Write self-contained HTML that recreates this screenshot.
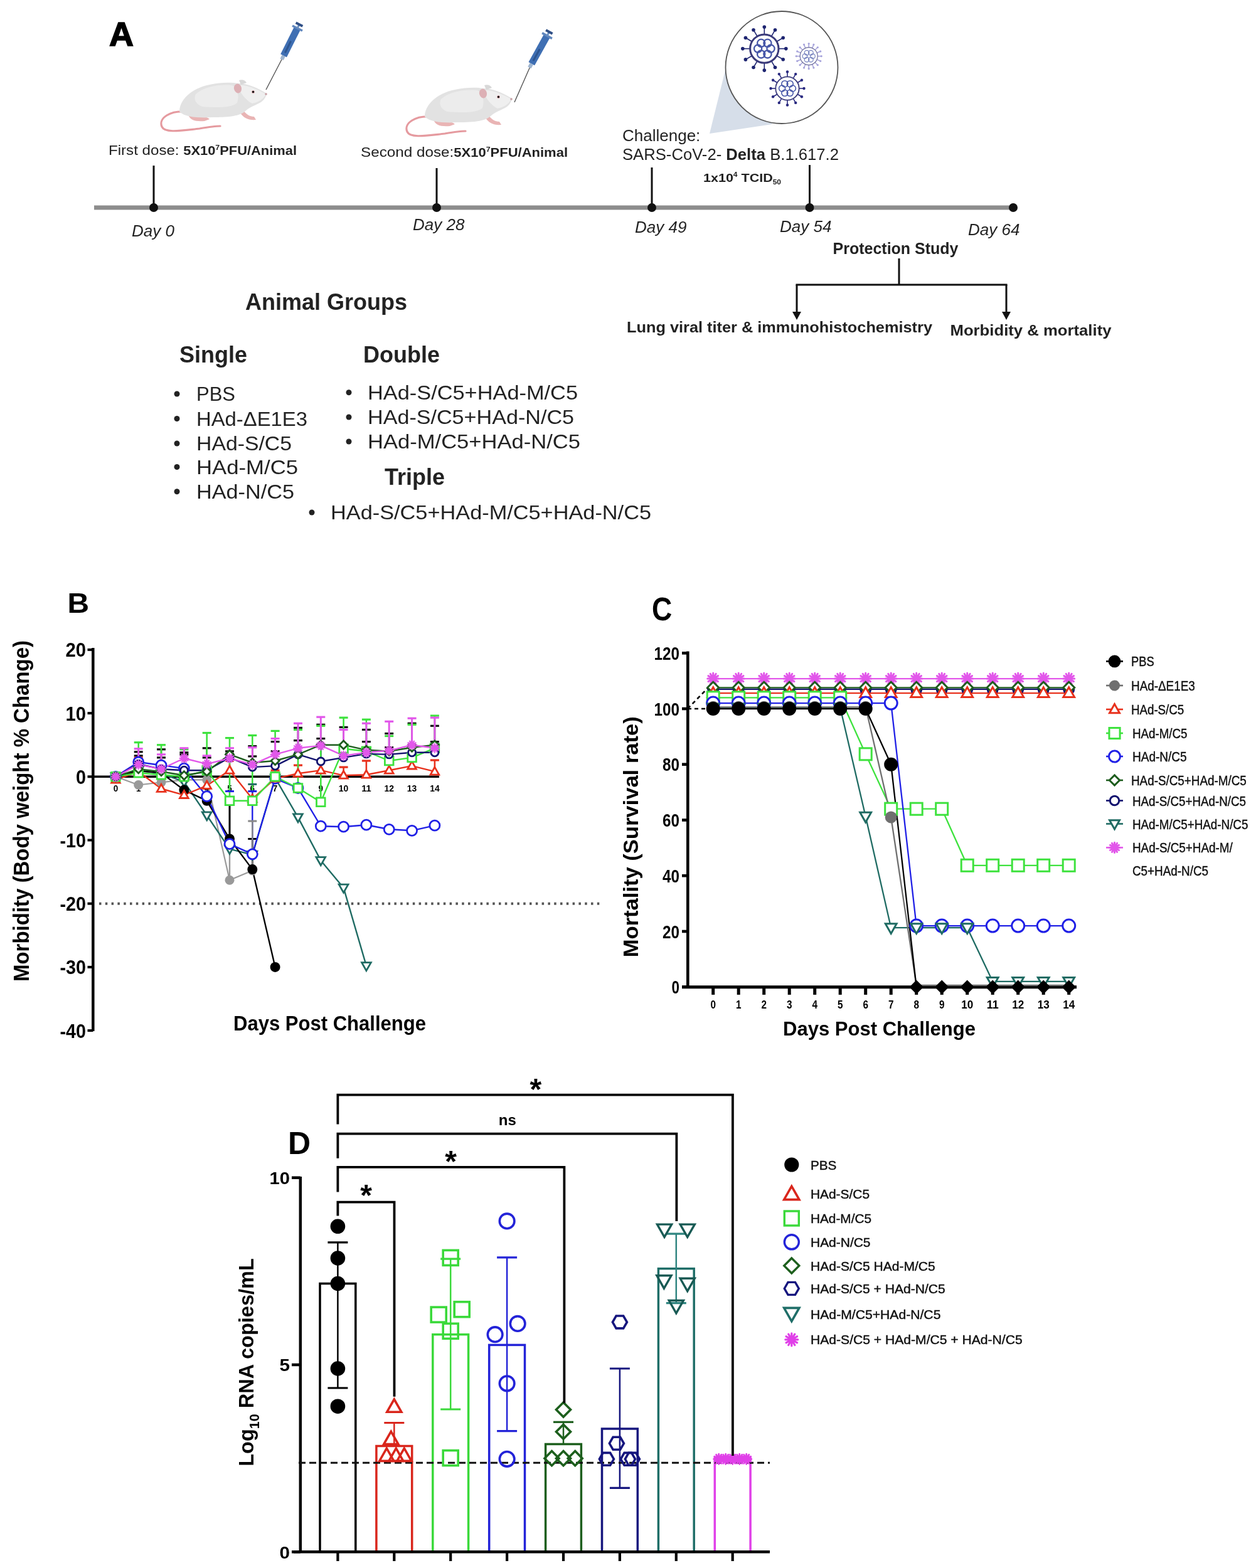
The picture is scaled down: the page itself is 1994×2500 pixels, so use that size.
<!DOCTYPE html>
<html><head><meta charset="utf-8"><title>Figure</title>
<style>html,body{margin:0;padding:0;background:#fff;overflow:hidden;} svg{display:block;} text{font-family:"Liberation Sans", Arial, sans-serif;}</style>
</head><body>
<svg width="1994" height="2500" viewBox="0 0 1994 2500">
<rect width="1994" height="2500" fill="#fff"/>
<text x="174.0" y="73.0" font-size="54" font-weight="bold" font-style="normal" text-anchor="start" fill="#000" stroke="#000" stroke-width="1.6">A</text>
<g transform="translate(0,0) scale(1.0)">
<path d="M296,178 C272,176 252,188 258,202 C263,213 290,208 318,205 C330,203 342,201 351,201" fill="none" stroke="#e59a9f" stroke-width="3.2" stroke-linecap="round"/>
<path d="M300,182 C302,192 312,194 326,193 L334,190 C330,186 318,184 306,180 Z" fill="#e9b4b4"/>
<path d="M383,180 C388,188 396,192 408,191 L405,186 C398,186 392,182 388,176 Z" fill="#e9b4b4"/>
<path d="M286,178 C286,160 304,141 334,135 C352,131 368,131 380,133 C395,133 410,140 425,149 C424,156 419,162 412,165 C404,169 396,172 390,178 C380,186 360,187 340,187 C320,188 296,188 286,178 Z" fill="#e2e2e2"/>
<path d="M312,150 C325,138 350,134 370,136 C378,140 382,152 378,164 C370,172 345,172 322,170 C312,166 308,158 312,150 Z" fill="#ececec"/>
<path d="M378,136 C392,134 410,142 424,150 C420,158 412,163 402,165 C392,160 384,150 378,136 Z" fill="#efefef"/>
<ellipse cx="379" cy="141" rx="6" ry="7.5" fill="#ddb0b5" transform="rotate(-15 379 141)"/>
<path d="M381,128 C386,126 391,128 393,132 L384,135 Z" fill="#d8d8d8"/>
<circle cx="403.5" cy="146.5" r="2.6" fill="#e7b6bb"/><circle cx="403.5" cy="146.5" r="1.7" fill="#111"/>
<circle cx="424" cy="150" r="1.8" fill="#c9a0a5"/>
</g>
<g transform="translate(391,8) scale(1.0)">
<path d="M296,178 C272,176 252,188 258,202 C263,213 290,208 318,205 C330,203 342,201 351,201" fill="none" stroke="#e59a9f" stroke-width="3.2" stroke-linecap="round"/>
<path d="M300,182 C302,192 312,194 326,193 L334,190 C330,186 318,184 306,180 Z" fill="#e9b4b4"/>
<path d="M383,180 C388,188 396,192 408,191 L405,186 C398,186 392,182 388,176 Z" fill="#e9b4b4"/>
<path d="M286,178 C286,160 304,141 334,135 C352,131 368,131 380,133 C395,133 410,140 425,149 C424,156 419,162 412,165 C404,169 396,172 390,178 C380,186 360,187 340,187 C320,188 296,188 286,178 Z" fill="#e2e2e2"/>
<path d="M312,150 C325,138 350,134 370,136 C378,140 382,152 378,164 C370,172 345,172 322,170 C312,166 308,158 312,150 Z" fill="#ececec"/>
<path d="M378,136 C392,134 410,142 424,150 C420,158 412,163 402,165 C392,160 384,150 378,136 Z" fill="#efefef"/>
<ellipse cx="379" cy="141" rx="6" ry="7.5" fill="#ddb0b5" transform="rotate(-15 379 141)"/>
<path d="M381,128 C386,126 391,128 393,132 L384,135 Z" fill="#d8d8d8"/>
<circle cx="403.5" cy="146.5" r="2.6" fill="#e7b6bb"/><circle cx="403.5" cy="146.5" r="1.7" fill="#111"/>
<circle cx="424" cy="150" r="1.8" fill="#c9a0a5"/>
</g>
<line x1="424.0" y1="143.0" x2="451.0" y2="91.0" stroke="#555" stroke-width="1.4" />
<line x1="449.2" y1="94.7" x2="452.1" y2="88.7" stroke="#9fb5cf" stroke-width="6" />
<line x1="452.1" y1="88.7" x2="474.0" y2="45.0" stroke="#3f6fb3" stroke-width="11" />
<line x1="454.4" y1="84.1" x2="463.6" y2="65.7" stroke="#2d5590" stroke-width="3" />
<line x1="466.0" y1="41.0" x2="482.0" y2="49.0" stroke="#5f86bd" stroke-width="3.5" />
<line x1="474.0" y1="45.0" x2="477.0" y2="39.0" stroke="#6b8fc0" stroke-width="3" />
<line x1="471.6" y1="36.3" x2="482.4" y2="41.7" stroke="#2f4f86" stroke-width="4" />
<line x1="820.0" y1="163.0" x2="846.0" y2="104.0" stroke="#555" stroke-width="1.4" />
<line x1="843.9" y1="107.8" x2="847.3" y2="101.7" stroke="#9fb5cf" stroke-width="6" />
<line x1="847.3" y1="101.7" x2="872.0" y2="57.0" stroke="#3f6fb3" stroke-width="11" />
<line x1="849.9" y1="97.0" x2="860.3" y2="78.2" stroke="#2d5590" stroke-width="3" />
<line x1="864.1" y1="52.6" x2="879.9" y2="61.4" stroke="#5f86bd" stroke-width="3.5" />
<line x1="872.0" y1="57.0" x2="875.4" y2="50.9" stroke="#6b8fc0" stroke-width="3" />
<line x1="870.1" y1="48.0" x2="880.6" y2="53.8" stroke="#2f4f86" stroke-width="4" />
<text x="173" y="247" font-size="21.5" fill="#222" textLength="300" lengthAdjust="spacingAndGlyphs">First dose: <tspan font-weight="bold" font-size="19.5">5X10<tspan dy="-8" font-size="11">7</tspan><tspan dy="8">PFU/Animal</tspan></tspan></text>
<text x="575" y="250" font-size="21.5" fill="#222" textLength="330" lengthAdjust="spacingAndGlyphs">Second dose:<tspan font-weight="bold" font-size="19.5">5X10<tspan dy="-8" font-size="11">7</tspan><tspan dy="8">PFU/Animal</tspan></tspan></text>
<polygon points="1131,213 1156,112 1231,198" fill="#d6dee9"/>
<circle cx="1246" cy="107.5" r="89.5" fill="#fff" stroke="#555" stroke-width="1.8"/>
<g opacity="1.0"><line x1="1218.3" y1="54.9" x2="1218.3" y2="43.1" stroke="#1d2470" stroke-width="1.6"/><circle cx="1218.3" cy="43.1" r="2.8" fill="#1d2470"/><line x1="1229.6" y1="57.9" x2="1235.5" y2="47.7" stroke="#1d2470" stroke-width="1.6"/><circle cx="1235.5" cy="47.7" r="2.8" fill="#1d2470"/><line x1="1238.0" y1="66.2" x2="1248.2" y2="60.3" stroke="#1d2470" stroke-width="1.6"/><circle cx="1248.2" cy="60.3" r="2.8" fill="#1d2470"/><line x1="1241.0" y1="77.6" x2="1252.8" y2="77.6" stroke="#1d2470" stroke-width="1.6"/><circle cx="1252.8" cy="77.6" r="2.8" fill="#1d2470"/><line x1="1238.0" y1="88.9" x2="1248.2" y2="94.8" stroke="#1d2470" stroke-width="1.6"/><circle cx="1248.2" cy="94.8" r="2.8" fill="#1d2470"/><line x1="1229.6" y1="97.3" x2="1235.5" y2="107.5" stroke="#1d2470" stroke-width="1.6"/><circle cx="1235.5" cy="107.5" r="2.8" fill="#1d2470"/><line x1="1218.3" y1="100.3" x2="1218.3" y2="112.1" stroke="#1d2470" stroke-width="1.6"/><circle cx="1218.3" cy="112.1" r="2.8" fill="#1d2470"/><line x1="1207.0" y1="97.3" x2="1201.0" y2="107.5" stroke="#1d2470" stroke-width="1.6"/><circle cx="1201.0" cy="107.5" r="2.8" fill="#1d2470"/><line x1="1198.6" y1="89.0" x2="1188.4" y2="94.9" stroke="#1d2470" stroke-width="1.6"/><circle cx="1188.4" cy="94.9" r="2.8" fill="#1d2470"/><line x1="1195.6" y1="77.6" x2="1183.8" y2="77.6" stroke="#1d2470" stroke-width="1.6"/><circle cx="1183.8" cy="77.6" r="2.8" fill="#1d2470"/><line x1="1198.6" y1="66.2" x2="1188.4" y2="60.3" stroke="#1d2470" stroke-width="1.6"/><circle cx="1188.4" cy="60.3" r="2.8" fill="#1d2470"/><line x1="1207.0" y1="57.9" x2="1201.0" y2="47.7" stroke="#1d2470" stroke-width="1.6"/><circle cx="1201.0" cy="47.7" r="2.8" fill="#1d2470"/><circle cx="1218.3" cy="77.6" r="22.7" fill="#fff" stroke="#3a3a7a" stroke-width="3.0"/><circle cx="1228.5" cy="77.6" r="6.1" fill="none" stroke="#4656a8" stroke-width="2.3"/><circle cx="1223.4" cy="86.4" r="6.1" fill="none" stroke="#4656a8" stroke-width="2.3"/><circle cx="1213.2" cy="86.4" r="6.1" fill="none" stroke="#4656a8" stroke-width="2.3"/><circle cx="1208.1" cy="77.6" r="6.1" fill="none" stroke="#4656a8" stroke-width="2.3"/><circle cx="1213.2" cy="68.8" r="6.1" fill="none" stroke="#4656a8" stroke-width="2.3"/><circle cx="1223.4" cy="68.8" r="6.1" fill="none" stroke="#4656a8" stroke-width="2.3"/></g>
<g opacity="0.75"><line x1="1289.2" y1="75.6" x2="1289.2" y2="69.6" stroke="#8a86d0" stroke-width="1.6"/><circle cx="1289.2" cy="69.6" r="1.6" fill="#8a86d0"/><line x1="1294.6" y1="76.7" x2="1296.9" y2="71.1" stroke="#8a86d0" stroke-width="1.6"/><circle cx="1296.9" cy="71.1" r="1.6" fill="#8a86d0"/><line x1="1299.1" y1="79.7" x2="1303.3" y2="75.5" stroke="#8a86d0" stroke-width="1.6"/><circle cx="1303.3" cy="75.5" r="1.6" fill="#8a86d0"/><line x1="1302.1" y1="84.2" x2="1307.7" y2="81.9" stroke="#8a86d0" stroke-width="1.6"/><circle cx="1307.7" cy="81.9" r="1.6" fill="#8a86d0"/><line x1="1303.2" y1="89.6" x2="1309.2" y2="89.6" stroke="#8a86d0" stroke-width="1.6"/><circle cx="1309.2" cy="89.6" r="1.6" fill="#8a86d0"/><line x1="1302.1" y1="95.0" x2="1307.7" y2="97.3" stroke="#8a86d0" stroke-width="1.6"/><circle cx="1307.7" cy="97.3" r="1.6" fill="#8a86d0"/><line x1="1299.1" y1="99.5" x2="1303.3" y2="103.7" stroke="#8a86d0" stroke-width="1.6"/><circle cx="1303.3" cy="103.7" r="1.6" fill="#8a86d0"/><line x1="1294.6" y1="102.5" x2="1296.9" y2="108.1" stroke="#8a86d0" stroke-width="1.6"/><circle cx="1296.9" cy="108.1" r="1.6" fill="#8a86d0"/><line x1="1289.2" y1="103.6" x2="1289.2" y2="109.6" stroke="#8a86d0" stroke-width="1.6"/><circle cx="1289.2" cy="109.6" r="1.6" fill="#8a86d0"/><line x1="1283.8" y1="102.5" x2="1281.5" y2="108.1" stroke="#8a86d0" stroke-width="1.6"/><circle cx="1281.5" cy="108.1" r="1.6" fill="#8a86d0"/><line x1="1279.3" y1="99.5" x2="1275.1" y2="103.7" stroke="#8a86d0" stroke-width="1.6"/><circle cx="1275.1" cy="103.7" r="1.6" fill="#8a86d0"/><line x1="1276.3" y1="95.0" x2="1270.7" y2="97.3" stroke="#8a86d0" stroke-width="1.6"/><circle cx="1270.7" cy="97.3" r="1.6" fill="#8a86d0"/><line x1="1275.2" y1="89.6" x2="1269.2" y2="89.6" stroke="#8a86d0" stroke-width="1.6"/><circle cx="1269.2" cy="89.6" r="1.6" fill="#8a86d0"/><line x1="1276.3" y1="84.2" x2="1270.7" y2="81.9" stroke="#8a86d0" stroke-width="1.6"/><circle cx="1270.7" cy="81.9" r="1.6" fill="#8a86d0"/><line x1="1279.3" y1="79.7" x2="1275.1" y2="75.5" stroke="#8a86d0" stroke-width="1.6"/><circle cx="1275.1" cy="75.5" r="1.6" fill="#8a86d0"/><line x1="1283.8" y1="76.7" x2="1281.5" y2="71.1" stroke="#8a86d0" stroke-width="1.6"/><circle cx="1281.5" cy="71.1" r="1.6" fill="#8a86d0"/><circle cx="1289.2" cy="89.6" r="14" fill="#fff" stroke="#3a3a7a" stroke-width="1.2"/><circle cx="1295.5" cy="89.6" r="3.8" fill="none" stroke="#4656a8" stroke-width="1.2"/><circle cx="1292.4" cy="95.1" r="3.8" fill="none" stroke="#4656a8" stroke-width="1.2"/><circle cx="1286.0" cy="95.1" r="3.8" fill="none" stroke="#4656a8" stroke-width="1.2"/><circle cx="1282.9" cy="89.6" r="3.8" fill="none" stroke="#4656a8" stroke-width="1.2"/><circle cx="1286.0" cy="84.1" r="3.8" fill="none" stroke="#4656a8" stroke-width="1.2"/><circle cx="1292.4" cy="84.1" r="3.8" fill="none" stroke="#4656a8" stroke-width="1.2"/></g>
<g opacity="1.0"><line x1="1255.0" y1="122.3" x2="1255.0" y2="114.5" stroke="#2a2a80" stroke-width="1.6"/><circle cx="1255.0" cy="114.5" r="2.2" fill="#2a2a80"/><line x1="1264.3" y1="124.8" x2="1268.2" y2="118.1" stroke="#2a2a80" stroke-width="1.6"/><circle cx="1268.2" cy="118.1" r="2.2" fill="#2a2a80"/><line x1="1271.2" y1="131.7" x2="1277.9" y2="127.8" stroke="#2a2a80" stroke-width="1.6"/><circle cx="1277.9" cy="127.8" r="2.2" fill="#2a2a80"/><line x1="1273.7" y1="141.0" x2="1281.5" y2="141.0" stroke="#2a2a80" stroke-width="1.6"/><circle cx="1281.5" cy="141.0" r="2.2" fill="#2a2a80"/><line x1="1271.2" y1="150.3" x2="1277.9" y2="154.2" stroke="#2a2a80" stroke-width="1.6"/><circle cx="1277.9" cy="154.2" r="2.2" fill="#2a2a80"/><line x1="1264.3" y1="157.2" x2="1268.2" y2="163.9" stroke="#2a2a80" stroke-width="1.6"/><circle cx="1268.2" cy="163.9" r="2.2" fill="#2a2a80"/><line x1="1255.0" y1="159.7" x2="1255.0" y2="167.5" stroke="#2a2a80" stroke-width="1.6"/><circle cx="1255.0" cy="167.5" r="2.2" fill="#2a2a80"/><line x1="1245.7" y1="157.2" x2="1241.8" y2="163.9" stroke="#2a2a80" stroke-width="1.6"/><circle cx="1241.8" cy="163.9" r="2.2" fill="#2a2a80"/><line x1="1238.8" y1="150.3" x2="1232.1" y2="154.2" stroke="#2a2a80" stroke-width="1.6"/><circle cx="1232.1" cy="154.2" r="2.2" fill="#2a2a80"/><line x1="1236.3" y1="141.0" x2="1228.5" y2="141.0" stroke="#2a2a80" stroke-width="1.6"/><circle cx="1228.5" cy="141.0" r="2.2" fill="#2a2a80"/><line x1="1238.8" y1="131.7" x2="1232.1" y2="127.8" stroke="#2a2a80" stroke-width="1.6"/><circle cx="1232.1" cy="127.8" r="2.2" fill="#2a2a80"/><line x1="1245.7" y1="124.8" x2="1241.8" y2="118.1" stroke="#2a2a80" stroke-width="1.6"/><circle cx="1241.8" cy="118.1" r="2.2" fill="#2a2a80"/><circle cx="1255" cy="141" r="18.7" fill="#fff" stroke="#3a3a7a" stroke-width="1.8"/><circle cx="1263.4" cy="141.0" r="5.0" fill="none" stroke="#4656a8" stroke-width="1.6"/><circle cx="1259.2" cy="148.3" r="5.0" fill="none" stroke="#4656a8" stroke-width="1.6"/><circle cx="1250.8" cy="148.3" r="5.0" fill="none" stroke="#4656a8" stroke-width="1.6"/><circle cx="1246.6" cy="141.0" r="5.0" fill="none" stroke="#4656a8" stroke-width="1.6"/><circle cx="1250.8" cy="133.7" r="5.0" fill="none" stroke="#4656a8" stroke-width="1.6"/><circle cx="1259.2" cy="133.7" r="5.0" fill="none" stroke="#4656a8" stroke-width="1.6"/></g>
<text x="992.0" y="225.0" font-size="26" font-weight="normal" font-style="normal" text-anchor="start" fill="#222" >Challenge:</text>
<text x="992" y="255" font-size="26" fill="#222" textLength="345" lengthAdjust="spacingAndGlyphs">SARS-CoV-2- <tspan font-weight="bold">Delta</tspan> B.1.617.2</text>
<text x="1121" y="290" font-size="18" font-weight="bold" fill="#222" textLength="124" lengthAdjust="spacingAndGlyphs">1x10<tspan dy="-8" font-size="10">4</tspan><tspan dy="8"> TCID</tspan><tspan dy="4" font-size="10">50</tspan></text>
<line x1="150.0" y1="331.0" x2="1615.0" y2="331.0" stroke="#8d8d8d" stroke-width="7" />
<line x1="245.0" y1="264.0" x2="245.0" y2="331.0" stroke="#111" stroke-width="3" />
<circle cx="245" cy="331" r="7" fill="#111"/>
<line x1="696.0" y1="268.0" x2="696.0" y2="331.0" stroke="#111" stroke-width="3" />
<circle cx="696" cy="331" r="7" fill="#111"/>
<line x1="1039.0" y1="267.0" x2="1039.0" y2="331.0" stroke="#111" stroke-width="3" />
<circle cx="1039" cy="331" r="7" fill="#111"/>
<line x1="1290.5" y1="263.0" x2="1290.5" y2="331.0" stroke="#111" stroke-width="3" />
<circle cx="1290.5" cy="331" r="7" fill="#111"/>
<circle cx="1615" cy="331" r="7" fill="#111"/>
<text x="210.0" y="377.0" font-size="26" font-weight="normal" font-style="italic" text-anchor="start" fill="#222" >Day 0</text>
<text x="658.0" y="367.0" font-size="26" font-weight="normal" font-style="italic" text-anchor="start" fill="#222" >Day 28</text>
<text x="1012.0" y="371.0" font-size="26" font-weight="normal" font-style="italic" text-anchor="start" fill="#222" >Day 49</text>
<text x="1243.0" y="370.0" font-size="26" font-weight="normal" font-style="italic" text-anchor="start" fill="#222" >Day 54</text>
<text x="1543.0" y="375.0" font-size="26" font-weight="normal" font-style="italic" text-anchor="start" fill="#222" >Day 64</text>
<text x="1327.5" y="405.0" font-size="25" font-weight="bold" font-style="normal" text-anchor="start" fill="#222" >Protection Study</text>
<line x1="1433.0" y1="412.0" x2="1433.0" y2="454.0" stroke="#111" stroke-width="3" />
<line x1="1268.5" y1="454.0" x2="1605.5" y2="454.0" stroke="#111" stroke-width="3" />
<line x1="1270.0" y1="454.0" x2="1270.0" y2="500.0" stroke="#111" stroke-width="3" />
<line x1="1604.0" y1="454.0" x2="1604.0" y2="500.0" stroke="#111" stroke-width="3" />
<polygon points="1263,497 1277,497 1270,510" fill="#111"/>
<polygon points="1597,497 1611,497 1604,510" fill="#111"/>
<text x="999.0" y="530.0" font-size="23.5" font-weight="bold" font-style="normal" text-anchor="start" fill="#222" textLength="487" lengthAdjust="spacingAndGlyphs">Lung viral titer &amp; immunohistochemistry</text>
<text x="1514.5" y="535.0" font-size="23.5" font-weight="bold" font-style="normal" text-anchor="start" fill="#222" textLength="257" lengthAdjust="spacingAndGlyphs">Morbidity &amp; mortality</text>
<text x="391.0" y="494.0" font-size="36" font-weight="bold" font-style="normal" text-anchor="start" fill="#222" >Animal Groups</text>
<text x="286.0" y="578.0" font-size="36" font-weight="bold" font-style="normal" text-anchor="start" fill="#222" >Single</text>
<text x="579.0" y="578.0" font-size="36" font-weight="bold" font-style="normal" text-anchor="start" fill="#222" >Double</text>
<text x="613.0" y="773.0" font-size="36" font-weight="bold" font-style="normal" text-anchor="start" fill="#222" >Triple</text>
<circle cx="282" cy="628" r="4.5" fill="#222"/>
<text x="313.0" y="639.0" font-size="32" font-weight="normal" font-style="normal" text-anchor="start" fill="#222" textLength="62" lengthAdjust="spacingAndGlyphs">PBS</text>
<circle cx="282" cy="667.5" r="4.5" fill="#222"/>
<text x="313.0" y="678.5" font-size="32" font-weight="normal" font-style="normal" text-anchor="start" fill="#222" textLength="177" lengthAdjust="spacingAndGlyphs">HAd-ΔE1E3</text>
<circle cx="282" cy="707" r="4.5" fill="#222"/>
<text x="313.0" y="718.0" font-size="32" font-weight="normal" font-style="normal" text-anchor="start" fill="#222" textLength="152" lengthAdjust="spacingAndGlyphs">HAd-S/C5</text>
<circle cx="282" cy="744.5" r="4.5" fill="#222"/>
<text x="313.0" y="755.5" font-size="32" font-weight="normal" font-style="normal" text-anchor="start" fill="#222" textLength="162" lengthAdjust="spacingAndGlyphs">HAd-M/C5</text>
<circle cx="282" cy="783.7" r="4.5" fill="#222"/>
<text x="313.0" y="794.7" font-size="32" font-weight="normal" font-style="normal" text-anchor="start" fill="#222" textLength="156" lengthAdjust="spacingAndGlyphs">HAd-N/C5</text>
<circle cx="556" cy="625.7" r="4.5" fill="#222"/>
<text x="586.0" y="636.7" font-size="32" font-weight="normal" font-style="normal" text-anchor="start" fill="#222" textLength="335" lengthAdjust="spacingAndGlyphs">HAd-S/C5+HAd-M/C5</text>
<circle cx="556" cy="665" r="4.5" fill="#222"/>
<text x="586.0" y="676.0" font-size="32" font-weight="normal" font-style="normal" text-anchor="start" fill="#222" textLength="329" lengthAdjust="spacingAndGlyphs">HAd-S/C5+HAd-N/C5</text>
<circle cx="556" cy="704" r="4.5" fill="#222"/>
<text x="586.0" y="715.0" font-size="32" font-weight="normal" font-style="normal" text-anchor="start" fill="#222" textLength="339" lengthAdjust="spacingAndGlyphs">HAd-M/C5+HAd-N/C5</text>
<circle cx="497" cy="817" r="4.5" fill="#222"/>
<text x="527.0" y="828.0" font-size="32" font-weight="normal" font-style="normal" text-anchor="start" fill="#222" textLength="511" lengthAdjust="spacingAndGlyphs">HAd-S/C5+HAd-M/C5+HAd-N/C5</text>
<text transform="translate(107.5,977) scale(1.1,1)" x="0" y="0" font-size="43.5" font-weight="bold">B</text>
<line x1="148.3" y1="1033.0" x2="148.3" y2="1644.0" stroke="#000" stroke-width="4.5" />
<line x1="139.5" y1="1035.9" x2="148.3" y2="1035.9" stroke="#000" stroke-width="4" />
<text x="137" y="1047.3" font-size="31.5" font-weight="bold" text-anchor="end" textLength="32.5" lengthAdjust="spacingAndGlyphs">20</text>
<line x1="139.5" y1="1137.1" x2="148.3" y2="1137.1" stroke="#000" stroke-width="4" />
<text x="137" y="1148.5" font-size="31.5" font-weight="bold" text-anchor="end" textLength="32.5" lengthAdjust="spacingAndGlyphs">10</text>
<line x1="139.5" y1="1238.3" x2="148.3" y2="1238.3" stroke="#000" stroke-width="4" />
<text x="137" y="1249.7" font-size="31.5" font-weight="bold" text-anchor="end" textLength="16" lengthAdjust="spacingAndGlyphs">0</text>
<line x1="139.5" y1="1339.5" x2="148.3" y2="1339.5" stroke="#000" stroke-width="4" />
<text x="137" y="1350.9" font-size="31.5" font-weight="bold" text-anchor="end" textLength="41.5" lengthAdjust="spacingAndGlyphs">-10</text>
<line x1="139.5" y1="1440.7" x2="148.3" y2="1440.7" stroke="#000" stroke-width="4" />
<text x="137" y="1452.1" font-size="31.5" font-weight="bold" text-anchor="end" textLength="41.5" lengthAdjust="spacingAndGlyphs">-20</text>
<line x1="139.5" y1="1541.9" x2="148.3" y2="1541.9" stroke="#000" stroke-width="4" />
<text x="137" y="1553.3" font-size="31.5" font-weight="bold" text-anchor="end" textLength="41.5" lengthAdjust="spacingAndGlyphs">-30</text>
<line x1="139.5" y1="1643.1" x2="148.3" y2="1643.1" stroke="#000" stroke-width="4" />
<text x="137" y="1654.5" font-size="31.5" font-weight="bold" text-anchor="end" textLength="41.5" lengthAdjust="spacingAndGlyphs">-40</text>
<line x1="158" y1="1440.7" x2="958" y2="1440.7" stroke="#555" stroke-width="4" stroke-dasharray="3.5 6.3"/>
<text transform="translate(46,1293) rotate(-90)" x="0" y="0" font-size="35" font-weight="bold" text-anchor="middle" textLength="544" lengthAdjust="spacingAndGlyphs">Morbidity (Body weight % Change)</text>
<text x="372" y="1643" font-size="33.5" font-weight="bold" textLength="307" lengthAdjust="spacingAndGlyphs">Days Post Challenge</text>
<line x1="148.3" y1="1238.3" x2="700.0" y2="1238.3" stroke="#000" stroke-width="3.6" />
<text x="184.4" y="1262.3" font-size="14.5" font-weight="bold" text-anchor="middle" textLength="7.5" lengthAdjust="spacingAndGlyphs">0</text>
<text x="220.7" y="1262.3" font-size="14.5" font-weight="bold" text-anchor="middle" textLength="7.5" lengthAdjust="spacingAndGlyphs">1</text>
<text x="257.0" y="1262.3" font-size="14.5" font-weight="bold" text-anchor="middle" textLength="7.5" lengthAdjust="spacingAndGlyphs">2</text>
<text x="293.4" y="1262.3" font-size="14.5" font-weight="bold" text-anchor="middle" textLength="7.5" lengthAdjust="spacingAndGlyphs">3</text>
<text x="329.7" y="1262.3" font-size="14.5" font-weight="bold" text-anchor="middle" textLength="7.5" lengthAdjust="spacingAndGlyphs">4</text>
<text x="366.0" y="1262.3" font-size="14.5" font-weight="bold" text-anchor="middle" textLength="7.5" lengthAdjust="spacingAndGlyphs">5</text>
<text x="402.3" y="1262.3" font-size="14.5" font-weight="bold" text-anchor="middle" textLength="7.5" lengthAdjust="spacingAndGlyphs">6</text>
<text x="438.6" y="1262.3" font-size="14.5" font-weight="bold" text-anchor="middle" textLength="7.5" lengthAdjust="spacingAndGlyphs">7</text>
<text x="475.0" y="1262.3" font-size="14.5" font-weight="bold" text-anchor="middle" textLength="7.5" lengthAdjust="spacingAndGlyphs">8</text>
<text x="511.3" y="1262.3" font-size="14.5" font-weight="bold" text-anchor="middle" textLength="7.5" lengthAdjust="spacingAndGlyphs">9</text>
<text x="547.6" y="1262.3" font-size="14.5" font-weight="bold" text-anchor="middle" textLength="15.5" lengthAdjust="spacingAndGlyphs">10</text>
<text x="583.9" y="1262.3" font-size="14.5" font-weight="bold" text-anchor="middle" textLength="15.5" lengthAdjust="spacingAndGlyphs">11</text>
<text x="620.2" y="1262.3" font-size="14.5" font-weight="bold" text-anchor="middle" textLength="15.5" lengthAdjust="spacingAndGlyphs">12</text>
<text x="656.6" y="1262.3" font-size="14.5" font-weight="bold" text-anchor="middle" textLength="15.5" lengthAdjust="spacingAndGlyphs">13</text>
<text x="692.9" y="1262.3" font-size="14.5" font-weight="bold" text-anchor="middle" textLength="15.5" lengthAdjust="spacingAndGlyphs">14</text>
<line x1="220.7" y1="1218.1" x2="220.7" y2="1204.9" stroke="#12126e" stroke-width="2.6" />
<line x1="213.7" y1="1204.9" x2="227.7" y2="1204.9" stroke="#111" stroke-width="3.2" />
<line x1="257.0" y1="1226.2" x2="257.0" y2="1207.9" stroke="#12126e" stroke-width="2.6" />
<line x1="250.0" y1="1207.9" x2="264.0" y2="1207.9" stroke="#111" stroke-width="3.2" />
<line x1="293.4" y1="1228.2" x2="293.4" y2="1202.9" stroke="#12126e" stroke-width="2.6" />
<line x1="286.4" y1="1202.9" x2="300.4" y2="1202.9" stroke="#111" stroke-width="3.2" />
<line x1="329.7" y1="1228.2" x2="329.7" y2="1207.9" stroke="#12126e" stroke-width="2.6" />
<line x1="322.7" y1="1207.9" x2="336.7" y2="1207.9" stroke="#111" stroke-width="3.2" />
<line x1="366.0" y1="1207.9" x2="366.0" y2="1201.9" stroke="#12126e" stroke-width="2.6" />
<line x1="359.0" y1="1201.9" x2="373.0" y2="1201.9" stroke="#111" stroke-width="3.2" />
<line x1="402.3" y1="1223.1" x2="402.3" y2="1205.9" stroke="#12126e" stroke-width="2.6" />
<line x1="395.3" y1="1205.9" x2="409.3" y2="1205.9" stroke="#111" stroke-width="3.2" />
<line x1="438.6" y1="1221.1" x2="438.6" y2="1197.8" stroke="#12126e" stroke-width="2.6" />
<line x1="431.6" y1="1197.8" x2="445.6" y2="1197.8" stroke="#111" stroke-width="3.2" />
<line x1="475.0" y1="1202.9" x2="475.0" y2="1180.6" stroke="#12126e" stroke-width="2.6" />
<line x1="468.0" y1="1180.6" x2="482.0" y2="1180.6" stroke="#111" stroke-width="3.2" />
<line x1="511.3" y1="1214.0" x2="511.3" y2="1177.6" stroke="#12126e" stroke-width="2.6" />
<line x1="504.3" y1="1177.6" x2="518.3" y2="1177.6" stroke="#111" stroke-width="3.2" />
<line x1="547.6" y1="1207.9" x2="547.6" y2="1187.7" stroke="#12126e" stroke-width="2.6" />
<line x1="540.6" y1="1187.7" x2="554.6" y2="1187.7" stroke="#111" stroke-width="3.2" />
<line x1="583.9" y1="1201.9" x2="583.9" y2="1182.6" stroke="#12126e" stroke-width="2.6" />
<line x1="576.9" y1="1182.6" x2="590.9" y2="1182.6" stroke="#111" stroke-width="3.2" />
<line x1="620.2" y1="1202.9" x2="620.2" y2="1169.5" stroke="#12126e" stroke-width="2.6" />
<line x1="613.2" y1="1169.5" x2="627.2" y2="1169.5" stroke="#111" stroke-width="3.2" />
<line x1="656.6" y1="1199.8" x2="656.6" y2="1187.7" stroke="#12126e" stroke-width="2.6" />
<line x1="649.6" y1="1187.7" x2="663.6" y2="1187.7" stroke="#111" stroke-width="3.2" />
<line x1="692.9" y1="1199.8" x2="692.9" y2="1182.6" stroke="#12126e" stroke-width="2.6" />
<line x1="685.9" y1="1182.6" x2="699.9" y2="1182.6" stroke="#111" stroke-width="3.2" />
<line x1="220.7" y1="1226.2" x2="220.7" y2="1198.8" stroke="#1d5c1d" stroke-width="2.6" />
<line x1="213.7" y1="1198.8" x2="227.7" y2="1198.8" stroke="#111" stroke-width="3.2" />
<line x1="257.0" y1="1230.2" x2="257.0" y2="1194.8" stroke="#1d5c1d" stroke-width="2.6" />
<line x1="250.0" y1="1194.8" x2="264.0" y2="1194.8" stroke="#111" stroke-width="3.2" />
<line x1="293.4" y1="1236.3" x2="293.4" y2="1199.8" stroke="#1d5c1d" stroke-width="2.6" />
<line x1="286.4" y1="1199.8" x2="300.4" y2="1199.8" stroke="#111" stroke-width="3.2" />
<line x1="329.7" y1="1230.2" x2="329.7" y2="1192.8" stroke="#1d5c1d" stroke-width="2.6" />
<line x1="322.7" y1="1192.8" x2="336.7" y2="1192.8" stroke="#111" stroke-width="3.2" />
<line x1="366.0" y1="1202.9" x2="366.0" y2="1197.8" stroke="#1d5c1d" stroke-width="2.6" />
<line x1="359.0" y1="1197.8" x2="373.0" y2="1197.8" stroke="#111" stroke-width="3.2" />
<line x1="402.3" y1="1216.0" x2="402.3" y2="1189.7" stroke="#1d5c1d" stroke-width="2.6" />
<line x1="395.3" y1="1189.7" x2="409.3" y2="1189.7" stroke="#111" stroke-width="3.2" />
<line x1="438.6" y1="1213.0" x2="438.6" y2="1182.6" stroke="#1d5c1d" stroke-width="2.6" />
<line x1="431.6" y1="1182.6" x2="445.6" y2="1182.6" stroke="#111" stroke-width="3.2" />
<line x1="475.0" y1="1202.9" x2="475.0" y2="1160.4" stroke="#1d5c1d" stroke-width="2.6" />
<line x1="468.0" y1="1160.4" x2="482.0" y2="1160.4" stroke="#111" stroke-width="3.2" />
<line x1="511.3" y1="1187.7" x2="511.3" y2="1155.3" stroke="#1d5c1d" stroke-width="2.6" />
<line x1="504.3" y1="1155.3" x2="518.3" y2="1155.3" stroke="#111" stroke-width="3.2" />
<line x1="547.6" y1="1187.7" x2="547.6" y2="1159.4" stroke="#1d5c1d" stroke-width="2.6" />
<line x1="540.6" y1="1159.4" x2="554.6" y2="1159.4" stroke="#111" stroke-width="3.2" />
<line x1="583.9" y1="1195.8" x2="583.9" y2="1163.4" stroke="#1d5c1d" stroke-width="2.6" />
<line x1="576.9" y1="1163.4" x2="590.9" y2="1163.4" stroke="#111" stroke-width="3.2" />
<line x1="620.2" y1="1197.8" x2="620.2" y2="1191.7" stroke="#1d5c1d" stroke-width="2.6" />
<line x1="613.2" y1="1191.7" x2="627.2" y2="1191.7" stroke="#111" stroke-width="3.2" />
<line x1="656.6" y1="1191.7" x2="656.6" y2="1153.3" stroke="#1d5c1d" stroke-width="2.6" />
<line x1="649.6" y1="1153.3" x2="663.6" y2="1153.3" stroke="#111" stroke-width="3.2" />
<line x1="692.9" y1="1187.7" x2="692.9" y2="1157.3" stroke="#1d5c1d" stroke-width="2.6" />
<line x1="685.9" y1="1157.3" x2="699.9" y2="1157.3" stroke="#111" stroke-width="3.2" />
<line x1="220.7" y1="1230.2" x2="220.7" y2="1207.9" stroke="#e8311c" stroke-width="2.6" />
<line x1="213.7" y1="1207.9" x2="227.7" y2="1207.9" stroke="#e8311c" stroke-width="3.2" />
<line x1="257.0" y1="1257.5" x2="257.0" y2="1233.2" stroke="#e8311c" stroke-width="2.6" />
<line x1="250.0" y1="1233.2" x2="264.0" y2="1233.2" stroke="#e8311c" stroke-width="3.2" />
<line x1="329.7" y1="1252.5" x2="329.7" y2="1228.2" stroke="#e8311c" stroke-width="2.6" />
<line x1="322.7" y1="1228.2" x2="336.7" y2="1228.2" stroke="#e8311c" stroke-width="3.2" />
<line x1="366.0" y1="1228.2" x2="366.0" y2="1213.0" stroke="#e8311c" stroke-width="2.6" />
<line x1="359.0" y1="1213.0" x2="373.0" y2="1213.0" stroke="#e8311c" stroke-width="3.2" />
<line x1="438.6" y1="1241.3" x2="438.6" y2="1228.2" stroke="#e8311c" stroke-width="2.6" />
<line x1="431.6" y1="1228.2" x2="445.6" y2="1228.2" stroke="#e8311c" stroke-width="3.2" />
<line x1="475.0" y1="1233.2" x2="475.0" y2="1220.1" stroke="#e8311c" stroke-width="2.6" />
<line x1="468.0" y1="1220.1" x2="482.0" y2="1220.1" stroke="#e8311c" stroke-width="3.2" />
<line x1="511.3" y1="1228.2" x2="511.3" y2="1213.0" stroke="#e8311c" stroke-width="2.6" />
<line x1="504.3" y1="1213.0" x2="518.3" y2="1213.0" stroke="#e8311c" stroke-width="3.2" />
<line x1="547.6" y1="1236.3" x2="547.6" y2="1223.1" stroke="#e8311c" stroke-width="2.6" />
<line x1="540.6" y1="1223.1" x2="554.6" y2="1223.1" stroke="#e8311c" stroke-width="3.2" />
<line x1="583.9" y1="1235.3" x2="583.9" y2="1213.0" stroke="#e8311c" stroke-width="2.6" />
<line x1="576.9" y1="1213.0" x2="590.9" y2="1213.0" stroke="#e8311c" stroke-width="3.2" />
<line x1="620.2" y1="1228.2" x2="620.2" y2="1215.0" stroke="#e8311c" stroke-width="2.6" />
<line x1="613.2" y1="1215.0" x2="627.2" y2="1215.0" stroke="#e8311c" stroke-width="3.2" />
<line x1="656.6" y1="1221.1" x2="656.6" y2="1210.0" stroke="#e8311c" stroke-width="2.6" />
<line x1="649.6" y1="1210.0" x2="663.6" y2="1210.0" stroke="#e8311c" stroke-width="3.2" />
<line x1="692.9" y1="1230.2" x2="692.9" y2="1212.0" stroke="#e8311c" stroke-width="2.6" />
<line x1="685.9" y1="1212.0" x2="699.9" y2="1212.0" stroke="#e8311c" stroke-width="3.2" />
<line x1="220.7" y1="1232.2" x2="220.7" y2="1183.7" stroke="#3ee23e" stroke-width="2.6" />
<line x1="213.7" y1="1183.7" x2="227.7" y2="1183.7" stroke="#3ee23e" stroke-width="3.2" />
<line x1="257.0" y1="1235.3" x2="257.0" y2="1187.7" stroke="#3ee23e" stroke-width="2.6" />
<line x1="250.0" y1="1187.7" x2="264.0" y2="1187.7" stroke="#3ee23e" stroke-width="3.2" />
<line x1="293.4" y1="1238.3" x2="293.4" y2="1194.8" stroke="#3ee23e" stroke-width="2.6" />
<line x1="286.4" y1="1194.8" x2="300.4" y2="1194.8" stroke="#3ee23e" stroke-width="3.2" />
<line x1="329.7" y1="1228.2" x2="329.7" y2="1168.5" stroke="#3ee23e" stroke-width="2.6" />
<line x1="322.7" y1="1168.5" x2="336.7" y2="1168.5" stroke="#3ee23e" stroke-width="3.2" />
<line x1="366.0" y1="1276.8" x2="366.0" y2="1176.6" stroke="#3ee23e" stroke-width="2.6" />
<line x1="359.0" y1="1176.6" x2="373.0" y2="1176.6" stroke="#3ee23e" stroke-width="3.2" />
<line x1="402.3" y1="1276.8" x2="402.3" y2="1172.5" stroke="#3ee23e" stroke-width="2.6" />
<line x1="395.3" y1="1172.5" x2="409.3" y2="1172.5" stroke="#3ee23e" stroke-width="3.2" />
<line x1="438.6" y1="1238.3" x2="438.6" y2="1165.4" stroke="#3ee23e" stroke-width="2.6" />
<line x1="431.6" y1="1165.4" x2="445.6" y2="1165.4" stroke="#3ee23e" stroke-width="3.2" />
<line x1="475.0" y1="1256.5" x2="475.0" y2="1163.4" stroke="#3ee23e" stroke-width="2.6" />
<line x1="468.0" y1="1163.4" x2="482.0" y2="1163.4" stroke="#3ee23e" stroke-width="3.2" />
<line x1="511.3" y1="1278.8" x2="511.3" y2="1157.3" stroke="#3ee23e" stroke-width="2.6" />
<line x1="504.3" y1="1157.3" x2="518.3" y2="1157.3" stroke="#3ee23e" stroke-width="3.2" />
<line x1="547.6" y1="1193.8" x2="547.6" y2="1144.2" stroke="#3ee23e" stroke-width="2.6" />
<line x1="540.6" y1="1144.2" x2="554.6" y2="1144.2" stroke="#3ee23e" stroke-width="3.2" />
<line x1="583.9" y1="1197.8" x2="583.9" y2="1147.2" stroke="#3ee23e" stroke-width="2.6" />
<line x1="576.9" y1="1147.2" x2="590.9" y2="1147.2" stroke="#3ee23e" stroke-width="3.2" />
<line x1="620.2" y1="1213.0" x2="620.2" y2="1173.5" stroke="#3ee23e" stroke-width="2.6" />
<line x1="613.2" y1="1173.5" x2="627.2" y2="1173.5" stroke="#3ee23e" stroke-width="3.2" />
<line x1="656.6" y1="1207.9" x2="656.6" y2="1155.3" stroke="#3ee23e" stroke-width="2.6" />
<line x1="649.6" y1="1155.3" x2="663.6" y2="1155.3" stroke="#3ee23e" stroke-width="3.2" />
<line x1="692.9" y1="1192.8" x2="692.9" y2="1141.1" stroke="#3ee23e" stroke-width="2.6" />
<line x1="685.9" y1="1141.1" x2="699.9" y2="1141.1" stroke="#3ee23e" stroke-width="3.2" />
<line x1="220.7" y1="1219.1" x2="220.7" y2="1193.8" stroke="#e257ea" stroke-width="3.0" />
<line x1="213.7" y1="1193.8" x2="227.7" y2="1193.8" stroke="#e257ea" stroke-width="3.2" />
<line x1="257.0" y1="1226.2" x2="257.0" y2="1202.9" stroke="#e257ea" stroke-width="3.0" />
<line x1="250.0" y1="1202.9" x2="264.0" y2="1202.9" stroke="#e257ea" stroke-width="3.2" />
<line x1="293.4" y1="1209.0" x2="293.4" y2="1192.8" stroke="#e257ea" stroke-width="3.0" />
<line x1="286.4" y1="1192.8" x2="300.4" y2="1192.8" stroke="#e257ea" stroke-width="3.2" />
<line x1="329.7" y1="1218.1" x2="329.7" y2="1204.9" stroke="#e257ea" stroke-width="3.0" />
<line x1="322.7" y1="1204.9" x2="336.7" y2="1204.9" stroke="#e257ea" stroke-width="3.2" />
<line x1="366.0" y1="1209.0" x2="366.0" y2="1192.8" stroke="#e257ea" stroke-width="3.0" />
<line x1="359.0" y1="1192.8" x2="373.0" y2="1192.8" stroke="#e257ea" stroke-width="3.2" />
<line x1="402.3" y1="1219.1" x2="402.3" y2="1191.7" stroke="#e257ea" stroke-width="3.0" />
<line x1="395.3" y1="1191.7" x2="409.3" y2="1191.7" stroke="#e257ea" stroke-width="3.2" />
<line x1="438.6" y1="1202.9" x2="438.6" y2="1177.6" stroke="#e257ea" stroke-width="3.0" />
<line x1="431.6" y1="1177.6" x2="445.6" y2="1177.6" stroke="#e257ea" stroke-width="3.2" />
<line x1="475.0" y1="1192.8" x2="475.0" y2="1153.3" stroke="#e257ea" stroke-width="3.0" />
<line x1="468.0" y1="1153.3" x2="482.0" y2="1153.3" stroke="#e257ea" stroke-width="3.2" />
<line x1="511.3" y1="1188.7" x2="511.3" y2="1143.2" stroke="#e257ea" stroke-width="3.0" />
<line x1="504.3" y1="1143.2" x2="518.3" y2="1143.2" stroke="#e257ea" stroke-width="3.2" />
<line x1="547.6" y1="1204.9" x2="547.6" y2="1163.4" stroke="#e257ea" stroke-width="3.0" />
<line x1="540.6" y1="1163.4" x2="554.6" y2="1163.4" stroke="#e257ea" stroke-width="3.2" />
<line x1="583.9" y1="1199.8" x2="583.9" y2="1153.3" stroke="#e257ea" stroke-width="3.0" />
<line x1="576.9" y1="1153.3" x2="590.9" y2="1153.3" stroke="#e257ea" stroke-width="3.2" />
<line x1="620.2" y1="1196.8" x2="620.2" y2="1150.3" stroke="#e257ea" stroke-width="3.0" />
<line x1="613.2" y1="1150.3" x2="627.2" y2="1150.3" stroke="#e257ea" stroke-width="3.2" />
<line x1="656.6" y1="1187.7" x2="656.6" y2="1145.2" stroke="#e257ea" stroke-width="3.0" />
<line x1="649.6" y1="1145.2" x2="663.6" y2="1145.2" stroke="#e257ea" stroke-width="3.2" />
<line x1="692.9" y1="1192.8" x2="692.9" y2="1144.2" stroke="#e257ea" stroke-width="3.0" />
<line x1="685.9" y1="1144.2" x2="699.9" y2="1144.2" stroke="#e257ea" stroke-width="3.2" />
<line x1="366.0" y1="1337.5" x2="366.0" y2="1275.7" stroke="#000" stroke-width="3" />
<line x1="359.0" y1="1275.7" x2="373.0" y2="1275.7" stroke="#000" stroke-width="3" />
<line x1="402.3" y1="1386.1" x2="402.3" y2="1337.5" stroke="#000" stroke-width="3" />
<line x1="395.3" y1="1337.5" x2="409.3" y2="1337.5" stroke="#000" stroke-width="3" />
<line x1="402.3" y1="1361.8" x2="402.3" y2="1261.6" stroke="#2020e6" stroke-width="2.4" />
<line x1="395.3" y1="1261.6" x2="409.3" y2="1261.6" stroke="#2020e6" stroke-width="3" />
<line x1="402.3" y1="1388.1" x2="402.3" y2="1309.1" stroke="#888" stroke-width="2.4" />
<line x1="395.3" y1="1309.1" x2="409.3" y2="1309.1" stroke="#888" stroke-width="3" />
<line x1="366.0" y1="1403.3" x2="366.0" y2="1349.6" stroke="#999" stroke-width="2.4" />
<line x1="395.3" y1="1250.4" x2="409.3" y2="1250.4" stroke="#1f6b63" stroke-width="3" />
<line x1="359.0" y1="1261.6" x2="373.0" y2="1261.6" stroke="#2020e6" stroke-width="3" />
<polyline points="184.4,1238.3 220.7,1251.5 257.0,1247.4 293.4,1243.4 329.7,1243.4 366.0,1403.3 402.3,1388.1" fill="none" stroke="#9a9a9a" stroke-width="2.2" stroke-linejoin="round" />
<polyline points="184.4,1238.3 220.7,1228.2 257.0,1233.2 293.4,1246.4 329.7,1300.0 366.0,1353.7 402.3,1362.8 438.6,1240.3 475.0,1303.1 511.3,1371.9 547.6,1415.4 583.9,1539.9" fill="none" stroke="#1f6b63" stroke-width="2.4" stroke-linejoin="round" />
<polyline points="184.4,1238.3 220.7,1229.2 257.0,1232.2 293.4,1259.6 329.7,1276.8 366.0,1337.5 402.3,1386.1 438.6,1541.9" fill="none" stroke="#000000" stroke-width="2.4" stroke-linejoin="round" />
<polyline points="184.4,1238.3 220.7,1215.0 257.0,1220.1 293.4,1225.1 329.7,1269.7 366.0,1345.6 402.3,1361.8 438.6,1241.3 475.0,1256.5 511.3,1317.2 547.6,1318.2 583.9,1315.2 620.2,1322.3 656.6,1324.3 692.9,1316.2" fill="none" stroke="#2020e6" stroke-width="2.4" stroke-linejoin="round" />
<polyline points="184.4,1243.4 220.7,1230.2 257.0,1257.5 293.4,1267.6 329.7,1252.5 366.0,1228.2 402.3,1273.7 438.6,1241.3 475.0,1233.2 511.3,1228.2 547.6,1236.3 583.9,1235.3 620.2,1228.2 656.6,1221.1 692.9,1230.2" fill="none" stroke="#e8311c" stroke-width="2.4" stroke-linejoin="round" />
<polyline points="184.4,1238.3 220.7,1232.2 257.0,1235.3 293.4,1238.3 329.7,1228.2 366.0,1276.8 402.3,1276.8 438.6,1238.3 475.0,1256.5 511.3,1278.8 547.6,1193.8 583.9,1197.8 620.2,1213.0 656.6,1207.9 692.9,1192.8" fill="none" stroke="#3ee23e" stroke-width="2.4" stroke-linejoin="round" />
<polyline points="184.4,1238.3 220.7,1218.1 257.0,1226.2 293.4,1228.2 329.7,1228.2 366.0,1207.9 402.3,1223.1 438.6,1221.1 475.0,1202.9 511.3,1214.0 547.6,1207.9 583.9,1201.9 620.2,1202.9 656.6,1199.8 692.9,1199.8" fill="none" stroke="#12126e" stroke-width="2.4" stroke-linejoin="round" />
<polyline points="184.4,1238.3 220.7,1226.2 257.0,1230.2 293.4,1236.3 329.7,1230.2 366.0,1202.9 402.3,1216.0 438.6,1213.0 475.0,1202.9 511.3,1187.7 547.6,1187.7 583.9,1195.8 620.2,1197.8 656.6,1191.7 692.9,1187.7" fill="none" stroke="#1d5c1d" stroke-width="2.4" stroke-linejoin="round" />
<polyline points="184.4,1238.3 220.7,1219.1 257.0,1226.2 293.4,1209.0 329.7,1218.1 366.0,1209.0 402.3,1219.1 438.6,1202.9 475.0,1192.8 511.3,1188.7 547.6,1204.9 583.9,1199.8 620.2,1196.8 656.6,1187.7 692.9,1192.8" fill="none" stroke="#e257ea" stroke-width="2.4" stroke-linejoin="round" />
<circle cx="184.4" cy="1238.3" r="7.5" fill="#999999"/>
<circle cx="220.7" cy="1251.5" r="7.5" fill="#999999"/>
<circle cx="257.0" cy="1247.4" r="7.5" fill="#999999"/>
<circle cx="293.4" cy="1243.4" r="7.5" fill="#999999"/>
<circle cx="329.7" cy="1243.4" r="7.5" fill="#999999"/>
<circle cx="366.0" cy="1403.3" r="7.5" fill="#999999"/>
<circle cx="402.3" cy="1388.1" r="7.5" fill="#999999"/>
<polygon points="184.4,1246.0 191.8,1233.0 177.1,1233.0" fill="white" stroke="#1f6b63" stroke-width="2.8"/>
<polygon points="220.7,1235.9 228.1,1222.9 213.4,1222.9" fill="white" stroke="#1f6b63" stroke-width="2.8"/>
<polygon points="257.0,1240.9 264.4,1228.0 249.7,1228.0" fill="white" stroke="#1f6b63" stroke-width="2.8"/>
<polygon points="293.4,1254.1 300.7,1241.1 286.0,1241.1" fill="white" stroke="#1f6b63" stroke-width="2.8"/>
<polygon points="329.7,1307.7 337.0,1294.8 322.3,1294.8" fill="white" stroke="#1f6b63" stroke-width="2.8"/>
<polygon points="366.0,1361.4 373.4,1348.4 358.6,1348.4" fill="white" stroke="#1f6b63" stroke-width="2.8"/>
<polygon points="402.3,1370.5 409.7,1357.5 395.0,1357.5" fill="white" stroke="#1f6b63" stroke-width="2.8"/>
<polygon points="438.6,1248.0 446.0,1235.1 431.3,1235.1" fill="white" stroke="#1f6b63" stroke-width="2.8"/>
<polygon points="475.0,1310.8 482.3,1297.8 467.6,1297.8" fill="white" stroke="#1f6b63" stroke-width="2.8"/>
<polygon points="511.3,1379.6 518.6,1366.6 503.9,1366.6" fill="white" stroke="#1f6b63" stroke-width="2.8"/>
<polygon points="547.6,1423.1 555.0,1410.1 540.2,1410.1" fill="white" stroke="#1f6b63" stroke-width="2.8"/>
<polygon points="583.9,1547.6 591.3,1534.6 576.6,1534.6" fill="white" stroke="#1f6b63" stroke-width="2.8"/>
<circle cx="184.4" cy="1238.3" r="8.0" fill="#000000"/>
<circle cx="220.7" cy="1229.2" r="8.0" fill="#000000"/>
<circle cx="257.0" cy="1232.2" r="8.0" fill="#000000"/>
<circle cx="293.4" cy="1259.6" r="8.0" fill="#000000"/>
<circle cx="329.7" cy="1276.8" r="8.0" fill="#000000"/>
<circle cx="366.0" cy="1337.5" r="8.0" fill="#000000"/>
<circle cx="402.3" cy="1386.1" r="8.0" fill="#000000"/>
<circle cx="438.6" cy="1541.9" r="8.0" fill="#000000"/>
<circle cx="184.4" cy="1238.3" r="8.0" fill="white" stroke="#2020e6" stroke-width="2.8"/>
<circle cx="220.7" cy="1215.0" r="8.0" fill="white" stroke="#2020e6" stroke-width="2.8"/>
<circle cx="257.0" cy="1220.1" r="8.0" fill="white" stroke="#2020e6" stroke-width="2.8"/>
<circle cx="293.4" cy="1225.1" r="8.0" fill="white" stroke="#2020e6" stroke-width="2.8"/>
<circle cx="329.7" cy="1269.7" r="8.0" fill="white" stroke="#2020e6" stroke-width="2.8"/>
<circle cx="366.0" cy="1345.6" r="8.0" fill="white" stroke="#2020e6" stroke-width="2.8"/>
<circle cx="402.3" cy="1361.8" r="8.0" fill="white" stroke="#2020e6" stroke-width="2.8"/>
<circle cx="438.6" cy="1241.3" r="8.0" fill="white" stroke="#2020e6" stroke-width="2.8"/>
<circle cx="475.0" cy="1256.5" r="8.0" fill="white" stroke="#2020e6" stroke-width="2.8"/>
<circle cx="511.3" cy="1317.2" r="8.0" fill="white" stroke="#2020e6" stroke-width="2.8"/>
<circle cx="547.6" cy="1318.2" r="8.0" fill="white" stroke="#2020e6" stroke-width="2.8"/>
<circle cx="583.9" cy="1315.2" r="8.0" fill="white" stroke="#2020e6" stroke-width="2.8"/>
<circle cx="620.2" cy="1322.3" r="8.0" fill="white" stroke="#2020e6" stroke-width="2.8"/>
<circle cx="656.6" cy="1324.3" r="8.0" fill="white" stroke="#2020e6" stroke-width="2.8"/>
<circle cx="692.9" cy="1316.2" r="8.0" fill="white" stroke="#2020e6" stroke-width="2.8"/>
<polygon points="184.4,1236.2 191.2,1248.2 177.6,1248.2" fill="white" stroke="#e8311c" stroke-width="2.8" stroke-linejoin="miter"/>
<polygon points="220.7,1223.1 227.5,1235.1 213.9,1235.1" fill="white" stroke="#e8311c" stroke-width="2.8" stroke-linejoin="miter"/>
<polygon points="257.0,1250.4 263.9,1262.4 250.2,1262.4" fill="white" stroke="#e8311c" stroke-width="2.8" stroke-linejoin="miter"/>
<polygon points="293.4,1260.5 300.2,1272.5 286.5,1272.5" fill="white" stroke="#e8311c" stroke-width="2.8" stroke-linejoin="miter"/>
<polygon points="329.7,1245.3 336.5,1257.3 322.9,1257.3" fill="white" stroke="#e8311c" stroke-width="2.8" stroke-linejoin="miter"/>
<polygon points="366.0,1221.0 372.8,1233.1 359.2,1233.1" fill="white" stroke="#e8311c" stroke-width="2.8" stroke-linejoin="miter"/>
<polygon points="402.3,1266.6 409.1,1278.6 395.5,1278.6" fill="white" stroke="#e8311c" stroke-width="2.8" stroke-linejoin="miter"/>
<polygon points="438.6,1234.2 445.5,1246.2 431.8,1246.2" fill="white" stroke="#e8311c" stroke-width="2.8" stroke-linejoin="miter"/>
<polygon points="475.0,1226.1 481.8,1238.1 468.1,1238.1" fill="white" stroke="#e8311c" stroke-width="2.8" stroke-linejoin="miter"/>
<polygon points="511.3,1221.0 518.1,1233.1 504.5,1233.1" fill="white" stroke="#e8311c" stroke-width="2.8" stroke-linejoin="miter"/>
<polygon points="547.6,1229.1 554.4,1241.2 540.8,1241.2" fill="white" stroke="#e8311c" stroke-width="2.8" stroke-linejoin="miter"/>
<polygon points="583.9,1228.1 590.7,1240.1 577.1,1240.1" fill="white" stroke="#e8311c" stroke-width="2.8" stroke-linejoin="miter"/>
<polygon points="620.2,1221.0 627.1,1233.1 613.4,1233.1" fill="white" stroke="#e8311c" stroke-width="2.8" stroke-linejoin="miter"/>
<polygon points="656.6,1213.9 663.4,1226.0 649.7,1226.0" fill="white" stroke="#e8311c" stroke-width="2.8" stroke-linejoin="miter"/>
<polygon points="692.9,1223.1 699.7,1235.1 686.1,1235.1" fill="white" stroke="#e8311c" stroke-width="2.8" stroke-linejoin="miter"/>
<rect x="177.6" y="1231.5" width="13.6" height="13.6" fill="white" stroke="#3ee23e" stroke-width="2.8"/>
<rect x="213.9" y="1225.4" width="13.6" height="13.6" fill="white" stroke="#3ee23e" stroke-width="2.8"/>
<rect x="250.2" y="1228.5" width="13.6" height="13.6" fill="white" stroke="#3ee23e" stroke-width="2.8"/>
<rect x="286.6" y="1231.5" width="13.6" height="13.6" fill="white" stroke="#3ee23e" stroke-width="2.8"/>
<rect x="322.9" y="1221.4" width="13.6" height="13.6" fill="white" stroke="#3ee23e" stroke-width="2.8"/>
<rect x="359.2" y="1270.0" width="13.6" height="13.6" fill="white" stroke="#3ee23e" stroke-width="2.8"/>
<rect x="395.5" y="1270.0" width="13.6" height="13.6" fill="white" stroke="#3ee23e" stroke-width="2.8"/>
<rect x="431.8" y="1231.5" width="13.6" height="13.6" fill="white" stroke="#3ee23e" stroke-width="2.8"/>
<rect x="468.2" y="1249.7" width="13.6" height="13.6" fill="white" stroke="#3ee23e" stroke-width="2.8"/>
<rect x="504.5" y="1272.0" width="13.6" height="13.6" fill="white" stroke="#3ee23e" stroke-width="2.8"/>
<rect x="540.8" y="1187.0" width="13.6" height="13.6" fill="white" stroke="#3ee23e" stroke-width="2.8"/>
<rect x="577.1" y="1191.0" width="13.6" height="13.6" fill="white" stroke="#3ee23e" stroke-width="2.8"/>
<rect x="613.4" y="1206.2" width="13.6" height="13.6" fill="white" stroke="#3ee23e" stroke-width="2.8"/>
<rect x="649.8" y="1201.1" width="13.6" height="13.6" fill="white" stroke="#3ee23e" stroke-width="2.8"/>
<rect x="686.1" y="1186.0" width="13.6" height="13.6" fill="white" stroke="#3ee23e" stroke-width="2.8"/>
<circle cx="184.4" cy="1238.3" r="6.0" fill="white" stroke="#12126e" stroke-width="2.8"/>
<circle cx="220.7" cy="1218.1" r="6.0" fill="white" stroke="#12126e" stroke-width="2.8"/>
<circle cx="257.0" cy="1226.2" r="6.0" fill="white" stroke="#12126e" stroke-width="2.8"/>
<circle cx="293.4" cy="1228.2" r="6.0" fill="white" stroke="#12126e" stroke-width="2.8"/>
<circle cx="329.7" cy="1228.2" r="6.0" fill="white" stroke="#12126e" stroke-width="2.8"/>
<circle cx="366.0" cy="1207.9" r="6.0" fill="white" stroke="#12126e" stroke-width="2.8"/>
<circle cx="402.3" cy="1223.1" r="6.0" fill="white" stroke="#12126e" stroke-width="2.8"/>
<circle cx="438.6" cy="1221.1" r="6.0" fill="white" stroke="#12126e" stroke-width="2.8"/>
<circle cx="475.0" cy="1202.9" r="6.0" fill="white" stroke="#12126e" stroke-width="2.8"/>
<circle cx="511.3" cy="1214.0" r="6.0" fill="white" stroke="#12126e" stroke-width="2.8"/>
<circle cx="547.6" cy="1207.9" r="6.0" fill="white" stroke="#12126e" stroke-width="2.8"/>
<circle cx="583.9" cy="1201.9" r="6.0" fill="white" stroke="#12126e" stroke-width="2.8"/>
<circle cx="620.2" cy="1202.9" r="6.0" fill="white" stroke="#12126e" stroke-width="2.8"/>
<circle cx="656.6" cy="1199.8" r="6.0" fill="white" stroke="#12126e" stroke-width="2.8"/>
<circle cx="692.9" cy="1199.8" r="6.0" fill="white" stroke="#12126e" stroke-width="2.8"/>
<polygon points="184.4,1231.7 191.0,1238.3 184.4,1244.9 177.8,1238.3" fill="white" stroke="#1d5c1d" stroke-width="2.8"/>
<polygon points="220.7,1219.6 227.3,1226.2 220.7,1232.8 214.1,1226.2" fill="white" stroke="#1d5c1d" stroke-width="2.8"/>
<polygon points="257.0,1223.6 263.6,1230.2 257.0,1236.8 250.4,1230.2" fill="white" stroke="#1d5c1d" stroke-width="2.8"/>
<polygon points="293.4,1229.7 300.0,1236.3 293.4,1242.9 286.8,1236.3" fill="white" stroke="#1d5c1d" stroke-width="2.8"/>
<polygon points="329.7,1223.6 336.3,1230.2 329.7,1236.8 323.1,1230.2" fill="white" stroke="#1d5c1d" stroke-width="2.8"/>
<polygon points="366.0,1196.3 372.6,1202.9 366.0,1209.5 359.4,1202.9" fill="white" stroke="#1d5c1d" stroke-width="2.8"/>
<polygon points="402.3,1209.4 408.9,1216.0 402.3,1222.6 395.7,1216.0" fill="white" stroke="#1d5c1d" stroke-width="2.8"/>
<polygon points="438.6,1206.4 445.2,1213.0 438.6,1219.6 432.0,1213.0" fill="white" stroke="#1d5c1d" stroke-width="2.8"/>
<polygon points="475.0,1196.3 481.6,1202.9 475.0,1209.5 468.4,1202.9" fill="white" stroke="#1d5c1d" stroke-width="2.8"/>
<polygon points="511.3,1181.1 517.9,1187.7 511.3,1194.3 504.7,1187.7" fill="white" stroke="#1d5c1d" stroke-width="2.8"/>
<polygon points="547.6,1181.1 554.2,1187.7 547.6,1194.3 541.0,1187.7" fill="white" stroke="#1d5c1d" stroke-width="2.8"/>
<polygon points="583.9,1189.2 590.5,1195.8 583.9,1202.4 577.3,1195.8" fill="white" stroke="#1d5c1d" stroke-width="2.8"/>
<polygon points="620.2,1191.2 626.8,1197.8 620.2,1204.4 613.6,1197.8" fill="white" stroke="#1d5c1d" stroke-width="2.8"/>
<polygon points="656.6,1185.1 663.2,1191.7 656.6,1198.3 650.0,1191.7" fill="white" stroke="#1d5c1d" stroke-width="2.8"/>
<polygon points="692.9,1181.1 699.5,1187.7 692.9,1194.3 686.3,1187.7" fill="white" stroke="#1d5c1d" stroke-width="2.8"/>
<circle cx="184.4" cy="1238.3" r="5.2" fill="#e257ea"/>
<path d="M177.4,1238.3L191.4,1238.3M178.3,1234.8L190.5,1241.8M180.9,1232.2L187.9,1244.4M184.4,1231.3L184.4,1245.3M187.9,1232.2L180.9,1244.4M190.5,1234.8L178.3,1241.8" stroke="#e257ea" stroke-width="2.2" stroke-linecap="round"/>
<circle cx="184.4" cy="1238.3" r="3.1" fill="#e257ea"/>
<circle cx="220.7" cy="1219.1" r="5.2" fill="#e257ea"/>
<path d="M213.7,1219.1L227.7,1219.1M214.7,1215.6L226.8,1222.6M217.2,1213.0L224.2,1225.1M220.7,1212.1L220.7,1226.1M224.2,1213.0L217.2,1225.1M226.8,1215.6L214.7,1222.6" stroke="#e257ea" stroke-width="2.2" stroke-linecap="round"/>
<circle cx="220.7" cy="1219.1" r="3.1" fill="#e257ea"/>
<circle cx="257.0" cy="1226.2" r="5.2" fill="#e257ea"/>
<path d="M250.0,1226.2L264.0,1226.2M251.0,1222.7L263.1,1229.7M253.5,1220.1L260.5,1232.2M257.0,1219.2L257.0,1233.2M260.5,1220.1L253.5,1232.2M263.1,1222.7L251.0,1229.7" stroke="#e257ea" stroke-width="2.2" stroke-linecap="round"/>
<circle cx="257.0" cy="1226.2" r="3.1" fill="#e257ea"/>
<circle cx="293.4" cy="1209.0" r="5.2" fill="#e257ea"/>
<path d="M286.4,1209.0L300.4,1209.0M287.3,1205.5L299.4,1212.5M289.9,1202.9L296.9,1215.0M293.4,1202.0L293.4,1216.0M296.9,1202.9L289.9,1215.0M299.4,1205.5L287.3,1212.5" stroke="#e257ea" stroke-width="2.2" stroke-linecap="round"/>
<circle cx="293.4" cy="1209.0" r="3.1" fill="#e257ea"/>
<circle cx="329.7" cy="1218.1" r="5.2" fill="#e257ea"/>
<path d="M322.7,1218.1L336.7,1218.1M323.6,1214.6L335.7,1221.6M326.2,1212.0L333.2,1224.1M329.7,1211.1L329.7,1225.1M333.2,1212.0L326.2,1224.1M335.7,1214.6L323.6,1221.6" stroke="#e257ea" stroke-width="2.2" stroke-linecap="round"/>
<circle cx="329.7" cy="1218.1" r="3.1" fill="#e257ea"/>
<circle cx="366.0" cy="1209.0" r="5.2" fill="#e257ea"/>
<path d="M359.0,1209.0L373.0,1209.0M359.9,1205.5L372.1,1212.5M362.5,1202.9L369.5,1215.0M366.0,1202.0L366.0,1216.0M369.5,1202.9L362.5,1215.0M372.1,1205.5L359.9,1212.5" stroke="#e257ea" stroke-width="2.2" stroke-linecap="round"/>
<circle cx="366.0" cy="1209.0" r="3.1" fill="#e257ea"/>
<circle cx="402.3" cy="1219.1" r="5.2" fill="#e257ea"/>
<path d="M395.3,1219.1L409.3,1219.1M396.3,1215.6L408.4,1222.6M398.8,1213.0L405.8,1225.1M402.3,1212.1L402.3,1226.1M405.8,1213.0L398.8,1225.1M408.4,1215.6L396.3,1222.6" stroke="#e257ea" stroke-width="2.2" stroke-linecap="round"/>
<circle cx="402.3" cy="1219.1" r="3.1" fill="#e257ea"/>
<circle cx="438.6" cy="1202.9" r="5.2" fill="#e257ea"/>
<path d="M431.6,1202.9L445.6,1202.9M432.6,1199.4L444.7,1206.4M435.1,1196.8L442.1,1208.9M438.6,1195.9L438.6,1209.9M442.1,1196.8L435.1,1208.9M444.7,1199.4L432.6,1206.4" stroke="#e257ea" stroke-width="2.2" stroke-linecap="round"/>
<circle cx="438.6" cy="1202.9" r="3.1" fill="#e257ea"/>
<circle cx="475.0" cy="1192.8" r="5.2" fill="#e257ea"/>
<path d="M468.0,1192.8L482.0,1192.8M468.9,1189.3L481.0,1196.3M471.5,1186.7L478.5,1198.8M475.0,1185.8L475.0,1199.8M478.5,1186.7L471.5,1198.8M481.0,1189.3L468.9,1196.3" stroke="#e257ea" stroke-width="2.2" stroke-linecap="round"/>
<circle cx="475.0" cy="1192.8" r="3.1" fill="#e257ea"/>
<circle cx="511.3" cy="1188.7" r="5.2" fill="#e257ea"/>
<path d="M504.3,1188.7L518.3,1188.7M505.2,1185.2L517.3,1192.2M507.8,1182.6L514.8,1194.8M511.3,1181.7L511.3,1195.7M514.8,1182.6L507.8,1194.8M517.3,1185.2L505.2,1192.2" stroke="#e257ea" stroke-width="2.2" stroke-linecap="round"/>
<circle cx="511.3" cy="1188.7" r="3.1" fill="#e257ea"/>
<circle cx="547.6" cy="1204.9" r="5.2" fill="#e257ea"/>
<path d="M540.6,1204.9L554.6,1204.9M541.5,1201.4L553.7,1208.4M544.1,1198.8L551.1,1211.0M547.6,1197.9L547.6,1211.9M551.1,1198.8L544.1,1211.0M553.7,1201.4L541.5,1208.4" stroke="#e257ea" stroke-width="2.2" stroke-linecap="round"/>
<circle cx="547.6" cy="1204.9" r="3.1" fill="#e257ea"/>
<circle cx="583.9" cy="1199.8" r="5.2" fill="#e257ea"/>
<path d="M576.9,1199.8L590.9,1199.8M577.9,1196.3L590.0,1203.3M580.4,1193.8L587.4,1205.9M583.9,1192.8L583.9,1206.8M587.4,1193.8L580.4,1205.9M590.0,1196.3L577.9,1203.3" stroke="#e257ea" stroke-width="2.2" stroke-linecap="round"/>
<circle cx="583.9" cy="1199.8" r="3.1" fill="#e257ea"/>
<circle cx="620.2" cy="1196.8" r="5.2" fill="#e257ea"/>
<path d="M613.2,1196.8L627.2,1196.8M614.2,1193.3L626.3,1200.3M616.7,1190.7L623.7,1202.9M620.2,1189.8L620.2,1203.8M623.7,1190.7L616.7,1202.9M626.3,1193.3L614.2,1200.3" stroke="#e257ea" stroke-width="2.2" stroke-linecap="round"/>
<circle cx="620.2" cy="1196.8" r="3.1" fill="#e257ea"/>
<circle cx="656.6" cy="1187.7" r="5.2" fill="#e257ea"/>
<path d="M649.6,1187.7L663.6,1187.7M650.5,1184.2L662.6,1191.2M653.1,1181.6L660.1,1193.8M656.6,1180.7L656.6,1194.7M660.1,1181.6L653.1,1193.8M662.6,1184.2L650.5,1191.2" stroke="#e257ea" stroke-width="2.2" stroke-linecap="round"/>
<circle cx="656.6" cy="1187.7" r="3.1" fill="#e257ea"/>
<circle cx="692.9" cy="1192.8" r="5.2" fill="#e257ea"/>
<path d="M685.9,1192.8L699.9,1192.8M686.8,1189.3L698.9,1196.3M689.4,1186.7L696.4,1198.8M692.9,1185.8L692.9,1199.8M696.4,1186.7L689.4,1198.8M698.9,1189.3L686.8,1196.3" stroke="#e257ea" stroke-width="2.2" stroke-linecap="round"/>
<circle cx="692.9" cy="1192.8" r="3.1" fill="#e257ea"/>
<text transform="translate(1039,988.5) scale(0.86,1)" x="0" y="0" font-size="52" font-weight="bold">C</text>
<line x1="1096.3" y1="1038.5" x2="1096.3" y2="1576.0" stroke="#000" stroke-width="4.6" />
<line x1="1087.0" y1="1573.7" x2="1716.0" y2="1573.7" stroke="#000" stroke-width="5" />
<line x1="1087.0" y1="1573.7" x2="1096.3" y2="1573.7" stroke="#000" stroke-width="4.6" />
<text x="1083" y="1584.3" font-size="29.5" font-weight="bold" text-anchor="end" textLength="12.5" lengthAdjust="spacingAndGlyphs">0</text>
<line x1="1087.0" y1="1485.0" x2="1096.3" y2="1485.0" stroke="#000" stroke-width="4.6" />
<text x="1083" y="1495.6" font-size="29.5" font-weight="bold" text-anchor="end" textLength="27" lengthAdjust="spacingAndGlyphs">20</text>
<line x1="1087.0" y1="1396.2" x2="1096.3" y2="1396.2" stroke="#000" stroke-width="4.6" />
<text x="1083" y="1406.8" font-size="29.5" font-weight="bold" text-anchor="end" textLength="27" lengthAdjust="spacingAndGlyphs">40</text>
<line x1="1087.0" y1="1307.5" x2="1096.3" y2="1307.5" stroke="#000" stroke-width="4.6" />
<text x="1083" y="1318.1" font-size="29.5" font-weight="bold" text-anchor="end" textLength="27" lengthAdjust="spacingAndGlyphs">60</text>
<line x1="1087.0" y1="1218.7" x2="1096.3" y2="1218.7" stroke="#000" stroke-width="4.6" />
<text x="1083" y="1229.3" font-size="29.5" font-weight="bold" text-anchor="end" textLength="27" lengthAdjust="spacingAndGlyphs">80</text>
<line x1="1087.0" y1="1130.0" x2="1096.3" y2="1130.0" stroke="#000" stroke-width="4.6" />
<text x="1083" y="1140.6" font-size="29.5" font-weight="bold" text-anchor="end" textLength="40.5" lengthAdjust="spacingAndGlyphs">100</text>
<line x1="1087.0" y1="1041.3" x2="1096.3" y2="1041.3" stroke="#000" stroke-width="4.6" />
<text x="1083" y="1051.9" font-size="29.5" font-weight="bold" text-anchor="end" textLength="40.5" lengthAdjust="spacingAndGlyphs">120</text>
<line x1="1136.7" y1="1573.7" x2="1136.7" y2="1586.0" stroke="#000" stroke-width="5" />
<text x="1136.7" y="1607.8" font-size="18" font-weight="bold" text-anchor="middle" textLength="8.5" lengthAdjust="spacingAndGlyphs">0</text>
<line x1="1177.2" y1="1573.7" x2="1177.2" y2="1586.0" stroke="#000" stroke-width="5" />
<text x="1177.2" y="1607.8" font-size="18" font-weight="bold" text-anchor="middle" textLength="8.5" lengthAdjust="spacingAndGlyphs">1</text>
<line x1="1217.7" y1="1573.7" x2="1217.7" y2="1586.0" stroke="#000" stroke-width="5" />
<text x="1217.7" y="1607.8" font-size="18" font-weight="bold" text-anchor="middle" textLength="8.5" lengthAdjust="spacingAndGlyphs">2</text>
<line x1="1258.2" y1="1573.7" x2="1258.2" y2="1586.0" stroke="#000" stroke-width="5" />
<text x="1258.2" y="1607.8" font-size="18" font-weight="bold" text-anchor="middle" textLength="8.5" lengthAdjust="spacingAndGlyphs">3</text>
<line x1="1298.7" y1="1573.7" x2="1298.7" y2="1586.0" stroke="#000" stroke-width="5" />
<text x="1298.7" y="1607.8" font-size="18" font-weight="bold" text-anchor="middle" textLength="8.5" lengthAdjust="spacingAndGlyphs">4</text>
<line x1="1339.2" y1="1573.7" x2="1339.2" y2="1586.0" stroke="#000" stroke-width="5" />
<text x="1339.2" y="1607.8" font-size="18" font-weight="bold" text-anchor="middle" textLength="8.5" lengthAdjust="spacingAndGlyphs">5</text>
<line x1="1379.7" y1="1573.7" x2="1379.7" y2="1586.0" stroke="#000" stroke-width="5" />
<text x="1379.7" y="1607.8" font-size="18" font-weight="bold" text-anchor="middle" textLength="8.5" lengthAdjust="spacingAndGlyphs">6</text>
<line x1="1420.2" y1="1573.7" x2="1420.2" y2="1586.0" stroke="#000" stroke-width="5" />
<text x="1420.2" y="1607.8" font-size="18" font-weight="bold" text-anchor="middle" textLength="8.5" lengthAdjust="spacingAndGlyphs">7</text>
<line x1="1460.7" y1="1573.7" x2="1460.7" y2="1586.0" stroke="#000" stroke-width="5" />
<text x="1460.7" y="1607.8" font-size="18" font-weight="bold" text-anchor="middle" textLength="8.5" lengthAdjust="spacingAndGlyphs">8</text>
<line x1="1501.2" y1="1573.7" x2="1501.2" y2="1586.0" stroke="#000" stroke-width="5" />
<text x="1501.2" y="1607.8" font-size="18" font-weight="bold" text-anchor="middle" textLength="8.5" lengthAdjust="spacingAndGlyphs">9</text>
<line x1="1541.7" y1="1573.7" x2="1541.7" y2="1586.0" stroke="#000" stroke-width="5" />
<text x="1541.7" y="1607.8" font-size="18" font-weight="bold" text-anchor="middle" textLength="19" lengthAdjust="spacingAndGlyphs">10</text>
<line x1="1582.2" y1="1573.7" x2="1582.2" y2="1586.0" stroke="#000" stroke-width="5" />
<text x="1582.2" y="1607.8" font-size="18" font-weight="bold" text-anchor="middle" textLength="19" lengthAdjust="spacingAndGlyphs">11</text>
<line x1="1622.7" y1="1573.7" x2="1622.7" y2="1586.0" stroke="#000" stroke-width="5" />
<text x="1622.7" y="1607.8" font-size="18" font-weight="bold" text-anchor="middle" textLength="19" lengthAdjust="spacingAndGlyphs">12</text>
<line x1="1663.2" y1="1573.7" x2="1663.2" y2="1586.0" stroke="#000" stroke-width="5" />
<text x="1663.2" y="1607.8" font-size="18" font-weight="bold" text-anchor="middle" textLength="19" lengthAdjust="spacingAndGlyphs">13</text>
<line x1="1703.7" y1="1573.7" x2="1703.7" y2="1586.0" stroke="#000" stroke-width="5" />
<text x="1703.7" y="1607.8" font-size="18" font-weight="bold" text-anchor="middle" textLength="19" lengthAdjust="spacingAndGlyphs">14</text>
<text transform="translate(1017,1334.3) rotate(-90)" x="0" y="0" font-size="34" font-weight="bold" text-anchor="middle" textLength="384" lengthAdjust="spacingAndGlyphs">Mortality (Survival rate)</text>
<text x="1248" y="1651.2" font-size="31" font-weight="bold" textLength="307" lengthAdjust="spacingAndGlyphs">Days Post Challenge</text>
<line x1="1096" y1="1130.0" x2="1136.7" y2="1130.0" stroke="#000" stroke-width="2.6" stroke-dasharray="6 5"/>
<line x1="1096" y1="1130.0" x2="1132.7" y2="1092.3" stroke="#000" stroke-width="2.6" stroke-dasharray="6 5"/>
<polyline points="1136.7,1082.1 1177.2,1082.1 1217.7,1082.1 1258.2,1082.1 1298.7,1082.1 1339.2,1082.1 1379.7,1082.1 1420.2,1082.1 1460.7,1082.1 1501.2,1082.1 1541.7,1082.1 1582.2,1082.1 1622.7,1082.1 1663.2,1082.1 1703.7,1082.1" fill="none" stroke="#e257ea" stroke-width="2.3" stroke-linejoin="round" />
<polyline points="1136.7,1098.9 1177.2,1098.9 1217.7,1098.9 1258.2,1098.9 1298.7,1098.9 1339.2,1098.9 1379.7,1098.9 1420.2,1098.9 1460.7,1098.9 1501.2,1098.9 1541.7,1098.9 1582.2,1098.9 1622.7,1098.9 1663.2,1098.9 1703.7,1098.9" fill="none" stroke="#12126e" stroke-width="2.3" stroke-linejoin="round" />
<polyline points="1136.7,1096.3 1177.2,1096.3 1217.7,1096.3 1258.2,1096.3 1298.7,1096.3 1339.2,1096.3 1379.7,1096.3 1420.2,1096.3 1460.7,1096.3 1501.2,1096.3 1541.7,1096.3 1582.2,1096.3 1622.7,1096.3 1663.2,1096.3 1703.7,1096.3" fill="none" stroke="#1d5c1d" stroke-width="2.3" stroke-linejoin="round" />
<polyline points="1136.7,1105.2 1177.2,1105.2 1217.7,1105.2 1258.2,1105.2 1298.7,1105.2 1339.2,1105.2 1379.7,1105.2 1420.2,1105.2 1460.7,1105.2 1501.2,1105.2 1541.7,1105.2 1582.2,1105.2 1622.7,1105.2 1663.2,1105.2 1703.7,1105.2" fill="none" stroke="#e8311c" stroke-width="2.3" stroke-linejoin="round" />
<polyline points="1136.7,1112.3 1177.2,1112.3 1217.7,1112.3 1258.2,1112.3 1298.7,1112.3 1339.2,1112.3 1379.7,1202.3 1420.2,1289.7 1460.7,1289.7 1501.2,1289.7 1541.7,1379.8 1582.2,1379.8 1622.7,1379.8 1663.2,1379.8 1703.7,1379.8" fill="none" stroke="#3ee23e" stroke-width="2.3" stroke-linejoin="round" />
<polyline points="1136.7,1121.1 1177.2,1121.1 1217.7,1121.1 1258.2,1121.1 1298.7,1121.1 1339.2,1121.1 1379.7,1121.1 1420.2,1121.1 1460.7,1476.1 1501.2,1476.1 1541.7,1476.1 1582.2,1476.1 1622.7,1476.1 1663.2,1476.1 1703.7,1476.1" fill="none" stroke="#2020e6" stroke-width="2.3" stroke-linejoin="round" />
<polyline points="1136.7,1128.2 1177.2,1128.2 1217.7,1128.2 1258.2,1128.2 1298.7,1128.2 1339.2,1128.2 1379.7,1301.7 1420.2,1479.2 1460.7,1479.2 1501.2,1479.2 1541.7,1479.2 1582.2,1564.8 1622.7,1564.8 1663.2,1564.8 1703.7,1564.8" fill="none" stroke="#1f6b63" stroke-width="2.3" stroke-linejoin="round" />
<polyline points="1136.7,1127.3 1177.2,1127.3 1217.7,1127.3 1258.2,1127.3 1298.7,1127.3 1339.2,1127.3 1379.7,1127.3 1420.2,1303.0 1460.7,1571.0 1501.2,1571.0 1541.7,1571.0 1582.2,1571.0 1622.7,1571.0 1663.2,1571.0 1703.7,1571.0" fill="none" stroke="#6f6f6f" stroke-width="2.3" stroke-linejoin="round" />
<polyline points="1136.7,1130.0 1177.2,1130.0 1217.7,1130.0 1258.2,1130.0 1298.7,1130.0 1339.2,1130.0 1379.7,1130.0 1420.2,1218.7 1460.7,1573.7 1501.2,1573.7 1541.7,1573.7 1582.2,1573.7 1622.7,1573.7 1663.2,1573.7 1703.7,1573.7" fill="none" stroke="#000000" stroke-width="2.3" stroke-linejoin="round" />
<circle cx="1136.7" cy="1082.1" r="5.4" fill="#e257ea"/>
<path d="M1127.7,1082.1L1145.7,1082.1M1128.9,1077.6L1144.5,1086.6M1132.2,1074.3L1141.2,1089.9M1136.7,1073.1L1136.7,1091.1M1141.2,1074.3L1132.2,1089.9M1144.5,1077.6L1128.9,1086.6" stroke="#e257ea" stroke-width="3" stroke-linecap="round"/>
<circle cx="1136.7" cy="1082.1" r="4.0" fill="#e257ea"/>
<circle cx="1177.2" cy="1082.1" r="5.4" fill="#e257ea"/>
<path d="M1168.2,1082.1L1186.2,1082.1M1169.4,1077.6L1185.0,1086.6M1172.7,1074.3L1181.7,1089.9M1177.2,1073.1L1177.2,1091.1M1181.7,1074.3L1172.7,1089.9M1185.0,1077.6L1169.4,1086.6" stroke="#e257ea" stroke-width="3" stroke-linecap="round"/>
<circle cx="1177.2" cy="1082.1" r="4.0" fill="#e257ea"/>
<circle cx="1217.7" cy="1082.1" r="5.4" fill="#e257ea"/>
<path d="M1208.7,1082.1L1226.7,1082.1M1209.9,1077.6L1225.5,1086.6M1213.2,1074.3L1222.2,1089.9M1217.7,1073.1L1217.7,1091.1M1222.2,1074.3L1213.2,1089.9M1225.5,1077.6L1209.9,1086.6" stroke="#e257ea" stroke-width="3" stroke-linecap="round"/>
<circle cx="1217.7" cy="1082.1" r="4.0" fill="#e257ea"/>
<circle cx="1258.2" cy="1082.1" r="5.4" fill="#e257ea"/>
<path d="M1249.2,1082.1L1267.2,1082.1M1250.4,1077.6L1266.0,1086.6M1253.7,1074.3L1262.7,1089.9M1258.2,1073.1L1258.2,1091.1M1262.7,1074.3L1253.7,1089.9M1266.0,1077.6L1250.4,1086.6" stroke="#e257ea" stroke-width="3" stroke-linecap="round"/>
<circle cx="1258.2" cy="1082.1" r="4.0" fill="#e257ea"/>
<circle cx="1298.7" cy="1082.1" r="5.4" fill="#e257ea"/>
<path d="M1289.7,1082.1L1307.7,1082.1M1290.9,1077.6L1306.5,1086.6M1294.2,1074.3L1303.2,1089.9M1298.7,1073.1L1298.7,1091.1M1303.2,1074.3L1294.2,1089.9M1306.5,1077.6L1290.9,1086.6" stroke="#e257ea" stroke-width="3" stroke-linecap="round"/>
<circle cx="1298.7" cy="1082.1" r="4.0" fill="#e257ea"/>
<circle cx="1339.2" cy="1082.1" r="5.4" fill="#e257ea"/>
<path d="M1330.2,1082.1L1348.2,1082.1M1331.4,1077.6L1347.0,1086.6M1334.7,1074.3L1343.7,1089.9M1339.2,1073.1L1339.2,1091.1M1343.7,1074.3L1334.7,1089.9M1347.0,1077.6L1331.4,1086.6" stroke="#e257ea" stroke-width="3" stroke-linecap="round"/>
<circle cx="1339.2" cy="1082.1" r="4.0" fill="#e257ea"/>
<circle cx="1379.7" cy="1082.1" r="5.4" fill="#e257ea"/>
<path d="M1370.7,1082.1L1388.7,1082.1M1371.9,1077.6L1387.5,1086.6M1375.2,1074.3L1384.2,1089.9M1379.7,1073.1L1379.7,1091.1M1384.2,1074.3L1375.2,1089.9M1387.5,1077.6L1371.9,1086.6" stroke="#e257ea" stroke-width="3" stroke-linecap="round"/>
<circle cx="1379.7" cy="1082.1" r="4.0" fill="#e257ea"/>
<circle cx="1420.2" cy="1082.1" r="5.4" fill="#e257ea"/>
<path d="M1411.2,1082.1L1429.2,1082.1M1412.4,1077.6L1428.0,1086.6M1415.7,1074.3L1424.7,1089.9M1420.2,1073.1L1420.2,1091.1M1424.7,1074.3L1415.7,1089.9M1428.0,1077.6L1412.4,1086.6" stroke="#e257ea" stroke-width="3" stroke-linecap="round"/>
<circle cx="1420.2" cy="1082.1" r="4.0" fill="#e257ea"/>
<circle cx="1460.7" cy="1082.1" r="5.4" fill="#e257ea"/>
<path d="M1451.7,1082.1L1469.7,1082.1M1452.9,1077.6L1468.5,1086.6M1456.2,1074.3L1465.2,1089.9M1460.7,1073.1L1460.7,1091.1M1465.2,1074.3L1456.2,1089.9M1468.5,1077.6L1452.9,1086.6" stroke="#e257ea" stroke-width="3" stroke-linecap="round"/>
<circle cx="1460.7" cy="1082.1" r="4.0" fill="#e257ea"/>
<circle cx="1501.2" cy="1082.1" r="5.4" fill="#e257ea"/>
<path d="M1492.2,1082.1L1510.2,1082.1M1493.4,1077.6L1509.0,1086.6M1496.7,1074.3L1505.7,1089.9M1501.2,1073.1L1501.2,1091.1M1505.7,1074.3L1496.7,1089.9M1509.0,1077.6L1493.4,1086.6" stroke="#e257ea" stroke-width="3" stroke-linecap="round"/>
<circle cx="1501.2" cy="1082.1" r="4.0" fill="#e257ea"/>
<circle cx="1541.7" cy="1082.1" r="5.4" fill="#e257ea"/>
<path d="M1532.7,1082.1L1550.7,1082.1M1533.9,1077.6L1549.5,1086.6M1537.2,1074.3L1546.2,1089.9M1541.7,1073.1L1541.7,1091.1M1546.2,1074.3L1537.2,1089.9M1549.5,1077.6L1533.9,1086.6" stroke="#e257ea" stroke-width="3" stroke-linecap="round"/>
<circle cx="1541.7" cy="1082.1" r="4.0" fill="#e257ea"/>
<circle cx="1582.2" cy="1082.1" r="5.4" fill="#e257ea"/>
<path d="M1573.2,1082.1L1591.2,1082.1M1574.4,1077.6L1590.0,1086.6M1577.7,1074.3L1586.7,1089.9M1582.2,1073.1L1582.2,1091.1M1586.7,1074.3L1577.7,1089.9M1590.0,1077.6L1574.4,1086.6" stroke="#e257ea" stroke-width="3" stroke-linecap="round"/>
<circle cx="1582.2" cy="1082.1" r="4.0" fill="#e257ea"/>
<circle cx="1622.7" cy="1082.1" r="5.4" fill="#e257ea"/>
<path d="M1613.7,1082.1L1631.7,1082.1M1614.9,1077.6L1630.5,1086.6M1618.2,1074.3L1627.2,1089.9M1622.7,1073.1L1622.7,1091.1M1627.2,1074.3L1618.2,1089.9M1630.5,1077.6L1614.9,1086.6" stroke="#e257ea" stroke-width="3" stroke-linecap="round"/>
<circle cx="1622.7" cy="1082.1" r="4.0" fill="#e257ea"/>
<circle cx="1663.2" cy="1082.1" r="5.4" fill="#e257ea"/>
<path d="M1654.2,1082.1L1672.2,1082.1M1655.4,1077.6L1671.0,1086.6M1658.7,1074.3L1667.7,1089.9M1663.2,1073.1L1663.2,1091.1M1667.7,1074.3L1658.7,1089.9M1671.0,1077.6L1655.4,1086.6" stroke="#e257ea" stroke-width="3" stroke-linecap="round"/>
<circle cx="1663.2" cy="1082.1" r="4.0" fill="#e257ea"/>
<circle cx="1703.7" cy="1082.1" r="5.4" fill="#e257ea"/>
<path d="M1694.7,1082.1L1712.7,1082.1M1695.9,1077.6L1711.5,1086.6M1699.2,1074.3L1708.2,1089.9M1703.7,1073.1L1703.7,1091.1M1708.2,1074.3L1699.2,1089.9M1711.5,1077.6L1695.9,1086.6" stroke="#e257ea" stroke-width="3" stroke-linecap="round"/>
<circle cx="1703.7" cy="1082.1" r="4.0" fill="#e257ea"/>
<circle cx="1136.7" cy="1098.9" r="8.0" fill="white" stroke="#12126e" stroke-width="3"/>
<circle cx="1177.2" cy="1098.9" r="8.0" fill="white" stroke="#12126e" stroke-width="3"/>
<circle cx="1217.7" cy="1098.9" r="8.0" fill="white" stroke="#12126e" stroke-width="3"/>
<circle cx="1258.2" cy="1098.9" r="8.0" fill="white" stroke="#12126e" stroke-width="3"/>
<circle cx="1298.7" cy="1098.9" r="8.0" fill="white" stroke="#12126e" stroke-width="3"/>
<circle cx="1339.2" cy="1098.9" r="8.0" fill="white" stroke="#12126e" stroke-width="3"/>
<circle cx="1379.7" cy="1098.9" r="8.0" fill="white" stroke="#12126e" stroke-width="3"/>
<circle cx="1420.2" cy="1098.9" r="8.0" fill="white" stroke="#12126e" stroke-width="3"/>
<circle cx="1460.7" cy="1098.9" r="8.0" fill="white" stroke="#12126e" stroke-width="3"/>
<circle cx="1501.2" cy="1098.9" r="8.0" fill="white" stroke="#12126e" stroke-width="3"/>
<circle cx="1541.7" cy="1098.9" r="8.0" fill="white" stroke="#12126e" stroke-width="3"/>
<circle cx="1582.2" cy="1098.9" r="8.0" fill="white" stroke="#12126e" stroke-width="3"/>
<circle cx="1622.7" cy="1098.9" r="8.0" fill="white" stroke="#12126e" stroke-width="3"/>
<circle cx="1663.2" cy="1098.9" r="8.0" fill="white" stroke="#12126e" stroke-width="3"/>
<circle cx="1703.7" cy="1098.9" r="8.0" fill="white" stroke="#12126e" stroke-width="3"/>
<polygon points="1136.7,1087.3 1145.7,1096.3 1136.7,1105.3 1127.7,1096.3" fill="white" stroke="#1d5c1d" stroke-width="3"/>
<polygon points="1177.2,1087.3 1186.2,1096.3 1177.2,1105.3 1168.2,1096.3" fill="white" stroke="#1d5c1d" stroke-width="3"/>
<polygon points="1217.7,1087.3 1226.7,1096.3 1217.7,1105.3 1208.7,1096.3" fill="white" stroke="#1d5c1d" stroke-width="3"/>
<polygon points="1258.2,1087.3 1267.2,1096.3 1258.2,1105.3 1249.2,1096.3" fill="white" stroke="#1d5c1d" stroke-width="3"/>
<polygon points="1298.7,1087.3 1307.7,1096.3 1298.7,1105.3 1289.7,1096.3" fill="white" stroke="#1d5c1d" stroke-width="3"/>
<polygon points="1339.2,1087.3 1348.2,1096.3 1339.2,1105.3 1330.2,1096.3" fill="white" stroke="#1d5c1d" stroke-width="3"/>
<polygon points="1379.7,1087.3 1388.7,1096.3 1379.7,1105.3 1370.7,1096.3" fill="white" stroke="#1d5c1d" stroke-width="3"/>
<polygon points="1420.2,1087.3 1429.2,1096.3 1420.2,1105.3 1411.2,1096.3" fill="white" stroke="#1d5c1d" stroke-width="3"/>
<polygon points="1460.7,1087.3 1469.7,1096.3 1460.7,1105.3 1451.7,1096.3" fill="white" stroke="#1d5c1d" stroke-width="3"/>
<polygon points="1501.2,1087.3 1510.2,1096.3 1501.2,1105.3 1492.2,1096.3" fill="white" stroke="#1d5c1d" stroke-width="3"/>
<polygon points="1541.7,1087.3 1550.7,1096.3 1541.7,1105.3 1532.7,1096.3" fill="white" stroke="#1d5c1d" stroke-width="3"/>
<polygon points="1582.2,1087.3 1591.2,1096.3 1582.2,1105.3 1573.2,1096.3" fill="white" stroke="#1d5c1d" stroke-width="3"/>
<polygon points="1622.7,1087.3 1631.7,1096.3 1622.7,1105.3 1613.7,1096.3" fill="white" stroke="#1d5c1d" stroke-width="3"/>
<polygon points="1663.2,1087.3 1672.2,1096.3 1663.2,1105.3 1654.2,1096.3" fill="white" stroke="#1d5c1d" stroke-width="3"/>
<polygon points="1703.7,1087.3 1712.7,1096.3 1703.7,1105.3 1694.7,1096.3" fill="white" stroke="#1d5c1d" stroke-width="3"/>
<polygon points="1136.7,1095.8 1145.6,1111.5 1127.8,1111.5" fill="white" stroke="#e8311c" stroke-width="3" stroke-linejoin="miter"/>
<polygon points="1177.2,1095.8 1186.1,1111.5 1168.3,1111.5" fill="white" stroke="#e8311c" stroke-width="3" stroke-linejoin="miter"/>
<polygon points="1217.7,1095.8 1226.6,1111.5 1208.8,1111.5" fill="white" stroke="#e8311c" stroke-width="3" stroke-linejoin="miter"/>
<polygon points="1258.2,1095.8 1267.1,1111.5 1249.3,1111.5" fill="white" stroke="#e8311c" stroke-width="3" stroke-linejoin="miter"/>
<polygon points="1298.7,1095.8 1307.6,1111.5 1289.8,1111.5" fill="white" stroke="#e8311c" stroke-width="3" stroke-linejoin="miter"/>
<polygon points="1339.2,1095.8 1348.1,1111.5 1330.3,1111.5" fill="white" stroke="#e8311c" stroke-width="3" stroke-linejoin="miter"/>
<polygon points="1379.7,1095.8 1388.6,1111.5 1370.8,1111.5" fill="white" stroke="#e8311c" stroke-width="3" stroke-linejoin="miter"/>
<polygon points="1420.2,1095.8 1429.1,1111.5 1411.3,1111.5" fill="white" stroke="#e8311c" stroke-width="3" stroke-linejoin="miter"/>
<polygon points="1460.7,1095.8 1469.6,1111.5 1451.8,1111.5" fill="white" stroke="#e8311c" stroke-width="3" stroke-linejoin="miter"/>
<polygon points="1501.2,1095.8 1510.1,1111.5 1492.3,1111.5" fill="white" stroke="#e8311c" stroke-width="3" stroke-linejoin="miter"/>
<polygon points="1541.7,1095.8 1550.6,1111.5 1532.8,1111.5" fill="white" stroke="#e8311c" stroke-width="3" stroke-linejoin="miter"/>
<polygon points="1582.2,1095.8 1591.1,1111.5 1573.3,1111.5" fill="white" stroke="#e8311c" stroke-width="3" stroke-linejoin="miter"/>
<polygon points="1622.7,1095.8 1631.6,1111.5 1613.8,1111.5" fill="white" stroke="#e8311c" stroke-width="3" stroke-linejoin="miter"/>
<polygon points="1663.2,1095.8 1672.1,1111.5 1654.3,1111.5" fill="white" stroke="#e8311c" stroke-width="3" stroke-linejoin="miter"/>
<polygon points="1703.7,1095.8 1712.6,1111.5 1694.8,1111.5" fill="white" stroke="#e8311c" stroke-width="3" stroke-linejoin="miter"/>
<rect x="1127.2" y="1102.8" width="19.0" height="19.0" fill="white" stroke="#3ee23e" stroke-width="3"/>
<rect x="1167.7" y="1102.8" width="19.0" height="19.0" fill="white" stroke="#3ee23e" stroke-width="3"/>
<rect x="1208.2" y="1102.8" width="19.0" height="19.0" fill="white" stroke="#3ee23e" stroke-width="3"/>
<rect x="1248.7" y="1102.8" width="19.0" height="19.0" fill="white" stroke="#3ee23e" stroke-width="3"/>
<rect x="1289.2" y="1102.8" width="19.0" height="19.0" fill="white" stroke="#3ee23e" stroke-width="3"/>
<rect x="1329.7" y="1102.8" width="19.0" height="19.0" fill="white" stroke="#3ee23e" stroke-width="3"/>
<rect x="1370.2" y="1192.8" width="19.0" height="19.0" fill="white" stroke="#3ee23e" stroke-width="3"/>
<rect x="1410.7" y="1280.2" width="19.0" height="19.0" fill="white" stroke="#3ee23e" stroke-width="3"/>
<rect x="1451.2" y="1280.2" width="19.0" height="19.0" fill="white" stroke="#3ee23e" stroke-width="3"/>
<rect x="1491.7" y="1280.2" width="19.0" height="19.0" fill="white" stroke="#3ee23e" stroke-width="3"/>
<rect x="1532.2" y="1370.3" width="19.0" height="19.0" fill="white" stroke="#3ee23e" stroke-width="3"/>
<rect x="1572.7" y="1370.3" width="19.0" height="19.0" fill="white" stroke="#3ee23e" stroke-width="3"/>
<rect x="1613.2" y="1370.3" width="19.0" height="19.0" fill="white" stroke="#3ee23e" stroke-width="3"/>
<rect x="1653.7" y="1370.3" width="19.0" height="19.0" fill="white" stroke="#3ee23e" stroke-width="3"/>
<rect x="1694.2" y="1370.3" width="19.0" height="19.0" fill="white" stroke="#3ee23e" stroke-width="3"/>
<circle cx="1136.7" cy="1121.1" r="10.0" fill="white" stroke="#2020e6" stroke-width="3"/>
<circle cx="1177.2" cy="1121.1" r="10.0" fill="white" stroke="#2020e6" stroke-width="3"/>
<circle cx="1217.7" cy="1121.1" r="10.0" fill="white" stroke="#2020e6" stroke-width="3"/>
<circle cx="1258.2" cy="1121.1" r="10.0" fill="white" stroke="#2020e6" stroke-width="3"/>
<circle cx="1298.7" cy="1121.1" r="10.0" fill="white" stroke="#2020e6" stroke-width="3"/>
<circle cx="1339.2" cy="1121.1" r="10.0" fill="white" stroke="#2020e6" stroke-width="3"/>
<circle cx="1379.7" cy="1121.1" r="10.0" fill="white" stroke="#2020e6" stroke-width="3"/>
<circle cx="1420.2" cy="1121.1" r="10.0" fill="white" stroke="#2020e6" stroke-width="3"/>
<circle cx="1460.7" cy="1476.1" r="10.0" fill="white" stroke="#2020e6" stroke-width="3"/>
<circle cx="1501.2" cy="1476.1" r="10.0" fill="white" stroke="#2020e6" stroke-width="3"/>
<circle cx="1541.7" cy="1476.1" r="10.0" fill="white" stroke="#2020e6" stroke-width="3"/>
<circle cx="1582.2" cy="1476.1" r="10.0" fill="white" stroke="#2020e6" stroke-width="3"/>
<circle cx="1622.7" cy="1476.1" r="10.0" fill="white" stroke="#2020e6" stroke-width="3"/>
<circle cx="1663.2" cy="1476.1" r="10.0" fill="white" stroke="#2020e6" stroke-width="3"/>
<circle cx="1703.7" cy="1476.1" r="10.0" fill="white" stroke="#2020e6" stroke-width="3"/>
<polygon points="1136.7,1137.6 1145.6,1121.9 1127.8,1121.9" fill="white" stroke="#1f6b63" stroke-width="3"/>
<polygon points="1177.2,1137.6 1186.1,1121.9 1168.3,1121.9" fill="white" stroke="#1f6b63" stroke-width="3"/>
<polygon points="1217.7,1137.6 1226.6,1121.9 1208.8,1121.9" fill="white" stroke="#1f6b63" stroke-width="3"/>
<polygon points="1258.2,1137.6 1267.1,1121.9 1249.3,1121.9" fill="white" stroke="#1f6b63" stroke-width="3"/>
<polygon points="1298.7,1137.6 1307.6,1121.9 1289.8,1121.9" fill="white" stroke="#1f6b63" stroke-width="3"/>
<polygon points="1339.2,1137.6 1348.1,1121.9 1330.3,1121.9" fill="white" stroke="#1f6b63" stroke-width="3"/>
<polygon points="1379.7,1311.1 1388.6,1295.3 1370.8,1295.3" fill="white" stroke="#1f6b63" stroke-width="3"/>
<polygon points="1420.2,1488.5 1429.1,1472.8 1411.3,1472.8" fill="white" stroke="#1f6b63" stroke-width="3"/>
<polygon points="1460.7,1488.5 1469.6,1472.8 1451.8,1472.8" fill="white" stroke="#1f6b63" stroke-width="3"/>
<polygon points="1501.2,1488.5 1510.1,1472.8 1492.3,1472.8" fill="white" stroke="#1f6b63" stroke-width="3"/>
<polygon points="1541.7,1488.5 1550.6,1472.8 1532.8,1472.8" fill="white" stroke="#1f6b63" stroke-width="3"/>
<polygon points="1582.2,1574.2 1591.1,1558.5 1573.3,1558.5" fill="white" stroke="#1f6b63" stroke-width="3"/>
<polygon points="1622.7,1574.2 1631.6,1558.5 1613.8,1558.5" fill="white" stroke="#1f6b63" stroke-width="3"/>
<polygon points="1663.2,1574.2 1672.1,1558.5 1654.3,1558.5" fill="white" stroke="#1f6b63" stroke-width="3"/>
<polygon points="1703.7,1574.2 1712.6,1558.5 1694.8,1558.5" fill="white" stroke="#1f6b63" stroke-width="3"/>
<circle cx="1136.7" cy="1127.3" r="9.5" fill="#6f6f6f"/>
<circle cx="1177.2" cy="1127.3" r="9.5" fill="#6f6f6f"/>
<circle cx="1217.7" cy="1127.3" r="9.5" fill="#6f6f6f"/>
<circle cx="1258.2" cy="1127.3" r="9.5" fill="#6f6f6f"/>
<circle cx="1298.7" cy="1127.3" r="9.5" fill="#6f6f6f"/>
<circle cx="1339.2" cy="1127.3" r="9.5" fill="#6f6f6f"/>
<circle cx="1379.7" cy="1127.3" r="9.5" fill="#6f6f6f"/>
<circle cx="1420.2" cy="1303.0" r="9.5" fill="#6f6f6f"/>
<circle cx="1136.7" cy="1130.0" r="11.0" fill="#000000"/>
<circle cx="1177.2" cy="1130.0" r="11.0" fill="#000000"/>
<circle cx="1217.7" cy="1130.0" r="11.0" fill="#000000"/>
<circle cx="1258.2" cy="1130.0" r="11.0" fill="#000000"/>
<circle cx="1298.7" cy="1130.0" r="11.0" fill="#000000"/>
<circle cx="1339.2" cy="1130.0" r="11.0" fill="#000000"/>
<circle cx="1379.7" cy="1130.0" r="11.0" fill="#000000"/>
<circle cx="1420.2" cy="1218.7" r="11.0" fill="#000000"/>
<polygon points="1460.7,1563.9 1470.5,1573.7 1460.7,1583.5 1450.9,1573.7" fill="#000" stroke="#000" stroke-width="2"/>
<polygon points="1501.2,1563.9 1511.0,1573.7 1501.2,1583.5 1491.4,1573.7" fill="#000" stroke="#000" stroke-width="2"/>
<polygon points="1541.7,1563.9 1551.5,1573.7 1541.7,1583.5 1531.9,1573.7" fill="#000" stroke="#000" stroke-width="2"/>
<polygon points="1582.2,1563.9 1592.0,1573.7 1582.2,1583.5 1572.4,1573.7" fill="#000" stroke="#000" stroke-width="2"/>
<polygon points="1622.7,1563.9 1632.5,1573.7 1622.7,1583.5 1612.9,1573.7" fill="#000" stroke="#000" stroke-width="2"/>
<polygon points="1663.2,1563.9 1673.0,1573.7 1663.2,1583.5 1653.4,1573.7" fill="#000" stroke="#000" stroke-width="2"/>
<polygon points="1703.7,1563.9 1713.5,1573.7 1703.7,1583.5 1693.9,1573.7" fill="#000" stroke="#000" stroke-width="2"/>
<line x1="1763.0" y1="1054.4" x2="1790.0" y2="1054.4" stroke="#000000" stroke-width="2.6" />
<circle cx="1776.5" cy="1054.4" r="9.9" fill="#000000"/>
<text x="1803" y="1062.4" font-size="22" fill="#111" stroke="#111" stroke-width="0.45" textLength="36.6" lengthAdjust="spacingAndGlyphs">PBS</text>
<line x1="1763.0" y1="1093.0" x2="1790.0" y2="1093.0" stroke="#6f6f6f" stroke-width="2.6" />
<circle cx="1776.5" cy="1093.0" r="8.6" fill="#6f6f6f"/>
<text x="1803" y="1101.0" font-size="22" fill="#111" stroke="#111" stroke-width="0.45" textLength="101.8" lengthAdjust="spacingAndGlyphs">HAd-ΔE1E3</text>
<line x1="1763.0" y1="1131.0" x2="1790.0" y2="1131.0" stroke="#e8311c" stroke-width="2.6" />
<polygon points="1776.5,1122.6 1784.5,1136.7 1768.5,1136.7" fill="white" stroke="#e8311c" stroke-width="3" stroke-linejoin="miter"/>
<text x="1803" y="1139.0" font-size="22" fill="#111" stroke="#111" stroke-width="0.45" textLength="84.2" lengthAdjust="spacingAndGlyphs">HAd-S/C5</text>
<line x1="1763.0" y1="1169.0" x2="1790.0" y2="1169.0" stroke="#3ee23e" stroke-width="2.6" />
<rect x="1768.0" y="1160.5" width="17.1" height="17.1" fill="white" stroke="#3ee23e" stroke-width="3"/>
<text x="1805" y="1177.0" font-size="22" fill="#111" stroke="#111" stroke-width="0.45" textLength="87.5" lengthAdjust="spacingAndGlyphs">HAd-M/C5</text>
<line x1="1763.0" y1="1206.0" x2="1790.0" y2="1206.0" stroke="#2020e6" stroke-width="2.6" />
<circle cx="1776.5" cy="1206.0" r="9.0" fill="white" stroke="#2020e6" stroke-width="3"/>
<text x="1805" y="1214.0" font-size="22" fill="#111" stroke="#111" stroke-width="0.45" textLength="86.6" lengthAdjust="spacingAndGlyphs">HAd-N/C5</text>
<line x1="1763.0" y1="1244.0" x2="1790.0" y2="1244.0" stroke="#1d5c1d" stroke-width="2.6" />
<polygon points="1776.5,1235.9 1784.6,1244.0 1776.5,1252.1 1768.4,1244.0" fill="white" stroke="#1d5c1d" stroke-width="3"/>
<text x="1803" y="1252.0" font-size="22" fill="#111" stroke="#111" stroke-width="0.45" textLength="183.8" lengthAdjust="spacingAndGlyphs">HAd-S/C5+HAd-M/C5</text>
<line x1="1763.0" y1="1276.5" x2="1790.0" y2="1276.5" stroke="#12126e" stroke-width="2.6" />
<circle cx="1776.5" cy="1276.5" r="7.2" fill="white" stroke="#12126e" stroke-width="3"/>
<text x="1805" y="1284.5" font-size="22" fill="#111" stroke="#111" stroke-width="0.45" textLength="180.9" lengthAdjust="spacingAndGlyphs">HAd-S/C5+HAd-N/C5</text>
<line x1="1763.0" y1="1313.5" x2="1790.0" y2="1313.5" stroke="#1f6b63" stroke-width="2.6" />
<polygon points="1776.5,1321.9 1784.5,1307.8 1768.5,1307.8" fill="white" stroke="#1f6b63" stroke-width="3"/>
<text x="1805" y="1321.5" font-size="22" fill="#111" stroke="#111" stroke-width="0.45" textLength="184.4" lengthAdjust="spacingAndGlyphs">HAd-M/C5+HAd-N/C5</text>
<line x1="1763.0" y1="1351.4" x2="1790.0" y2="1351.4" stroke="#e257ea" stroke-width="2.6" />
<circle cx="1776.5" cy="1351.4" r="4.9" fill="#e257ea"/>
<path d="M1768.4,1351.4L1784.6,1351.4M1769.5,1347.4L1783.5,1355.5M1772.5,1344.4L1780.5,1358.4M1776.5,1343.3L1776.5,1359.5M1780.5,1344.4L1772.5,1358.4M1783.5,1347.4L1769.5,1355.5" stroke="#e257ea" stroke-width="3" stroke-linecap="round"/>
<circle cx="1776.5" cy="1351.4" r="3.6" fill="#e257ea"/>
<text x="1805" y="1359.4" font-size="22" fill="#111" stroke="#111" stroke-width="0.45" textLength="159.7" lengthAdjust="spacingAndGlyphs">HAd-S/C5+HAd-M/</text>
<text x="1805" y="1396.4" font-size="22" fill="#111" stroke="#111" stroke-width="0.45" textLength="121" lengthAdjust="spacingAndGlyphs">C5+HAd-N/C5</text>
<text x="459.0" y="1839.5" font-size="50" font-weight="bold" font-style="normal" text-anchor="start" fill="#000" >D</text>
<line x1="478.8" y1="1876.0" x2="478.8" y2="2476.0" stroke="#000" stroke-width="4.5" />
<line x1="465.0" y1="1877.7" x2="478.8" y2="1877.7" stroke="#000" stroke-width="4.5" />
<text x="462" y="1887.9" font-size="28.5" font-weight="bold" text-anchor="end" textLength="32.5" lengthAdjust="spacingAndGlyphs">10</text>
<line x1="465.0" y1="2176.0" x2="478.8" y2="2176.0" stroke="#000" stroke-width="4.5" />
<text x="462" y="2186.2" font-size="28.5" font-weight="bold" text-anchor="end" textLength="16.5" lengthAdjust="spacingAndGlyphs">5</text>
<line x1="465.0" y1="2474.3" x2="478.8" y2="2474.3" stroke="#000" stroke-width="4.5" />
<text x="462" y="2484.5" font-size="28.5" font-weight="bold" text-anchor="end" textLength="16.5" lengthAdjust="spacingAndGlyphs">0</text>
<line x1="538.4" y1="2474.3" x2="538.4" y2="2489.0" stroke="#000" stroke-width="4.2" />
<line x1="628.3" y1="2474.3" x2="628.3" y2="2489.0" stroke="#000" stroke-width="4.2" />
<line x1="718.2" y1="2474.3" x2="718.2" y2="2489.0" stroke="#000" stroke-width="4.2" />
<line x1="808.1" y1="2474.3" x2="808.1" y2="2489.0" stroke="#000" stroke-width="4.2" />
<line x1="898.0" y1="2474.3" x2="898.0" y2="2489.0" stroke="#000" stroke-width="4.2" />
<line x1="987.9" y1="2474.3" x2="987.9" y2="2489.0" stroke="#000" stroke-width="4.2" />
<line x1="1077.8" y1="2474.3" x2="1077.8" y2="2489.0" stroke="#000" stroke-width="4.2" />
<line x1="1167.7" y1="2474.3" x2="1167.7" y2="2489.0" stroke="#000" stroke-width="4.2" />
<text transform="translate(404,2172) rotate(-90)" x="0" y="0" font-size="32.5" font-weight="bold" text-anchor="middle">Log<tspan font-size="21.5" dy="9">10</tspan><tspan dy="-9"> RNA copies/mL</tspan></text>
<rect x="510.0" y="2046.5" width="56.8" height="427.8" fill="none" stroke="#000000" stroke-width="3.5"/>
<rect x="599.9" y="2305.5" width="56.8" height="168.8" fill="none" stroke="#d9261c" stroke-width="3.5"/>
<rect x="689.8" y="2127.7" width="56.8" height="346.6" fill="none" stroke="#3ad93a" stroke-width="3.5"/>
<rect x="779.7" y="2144.4" width="56.8" height="329.9" fill="none" stroke="#2323d8" stroke-width="3.5"/>
<rect x="869.6" y="2302.5" width="56.8" height="171.8" fill="none" stroke="#1d5f1d" stroke-width="3.5"/>
<rect x="959.5" y="2278.0" width="56.8" height="196.3" fill="none" stroke="#16167e" stroke-width="3.5"/>
<rect x="1049.4" y="2022.7" width="56.8" height="451.6" fill="none" stroke="#1f6e68" stroke-width="3.5"/>
<rect x="1139.3" y="2324.6" width="56.8" height="149.7" fill="none" stroke="#e040e8" stroke-width="3.5"/>
<line x1="468.0" y1="2474.3" x2="1227.0" y2="2474.3" stroke="#000" stroke-width="4.5" />
<line x1="538.4" y1="2046.5" x2="538.4" y2="1980.9" stroke="#000000" stroke-width="2.5" />
<line x1="522.4" y1="1980.9" x2="554.4" y2="1980.9" stroke="#000000" stroke-width="3.2" />
<line x1="538.4" y1="2046.5" x2="538.4" y2="2213.0" stroke="#000000" stroke-width="2.5" />
<line x1="522.4" y1="2213.0" x2="554.4" y2="2213.0" stroke="#000000" stroke-width="3.2" />
<line x1="628.3" y1="2305.5" x2="628.3" y2="2268.5" stroke="#d9261c" stroke-width="2.5" />
<line x1="612.3" y1="2268.5" x2="644.3" y2="2268.5" stroke="#d9261c" stroke-width="3.2" />
<line x1="718.2" y1="2127.7" x2="718.2" y2="2007.2" stroke="#3ad93a" stroke-width="2.5" />
<line x1="702.2" y1="2007.2" x2="734.2" y2="2007.2" stroke="#3ad93a" stroke-width="3.2" />
<line x1="718.2" y1="2127.7" x2="718.2" y2="2247.0" stroke="#3ad93a" stroke-width="2.5" />
<line x1="702.2" y1="2247.0" x2="734.2" y2="2247.0" stroke="#3ad93a" stroke-width="3.2" />
<line x1="808.1" y1="2144.4" x2="808.1" y2="2004.8" stroke="#2323d8" stroke-width="2.5" />
<line x1="792.1" y1="2004.8" x2="824.1" y2="2004.8" stroke="#2323d8" stroke-width="3.2" />
<line x1="808.1" y1="2144.4" x2="808.1" y2="2281.6" stroke="#2323d8" stroke-width="2.5" />
<line x1="792.1" y1="2281.6" x2="824.1" y2="2281.6" stroke="#2323d8" stroke-width="3.2" />
<line x1="898.0" y1="2302.5" x2="898.0" y2="2267.3" stroke="#1d5f1d" stroke-width="2.5" />
<line x1="882.0" y1="2267.3" x2="914.0" y2="2267.3" stroke="#1d5f1d" stroke-width="3.2" />
<line x1="987.9" y1="2278.0" x2="987.9" y2="2182.0" stroke="#16167e" stroke-width="2.5" />
<line x1="971.9" y1="2182.0" x2="1003.9" y2="2182.0" stroke="#16167e" stroke-width="3.2" />
<line x1="987.9" y1="2278.0" x2="987.9" y2="2372.3" stroke="#16167e" stroke-width="2.5" />
<line x1="971.9" y1="2372.3" x2="1003.9" y2="2372.3" stroke="#16167e" stroke-width="3.2" />
<line x1="1077.8" y1="2022.7" x2="1077.8" y2="1967.2" stroke="#2f8580" stroke-width="2.5" />
<line x1="1061.8" y1="1967.2" x2="1093.8" y2="1967.2" stroke="#2f8580" stroke-width="3.2" />
<line x1="1077.8" y1="2022.7" x2="1077.8" y2="2077.6" stroke="#2f8580" stroke-width="2.5" />
<line x1="1061.8" y1="2077.6" x2="1093.8" y2="2077.6" stroke="#2f8580" stroke-width="3.2" />
<line x1="476" y1="2332.3" x2="1227" y2="2332.3" stroke="#111" stroke-width="3" stroke-dasharray="11 6"/>
<circle cx="538.4" cy="1955.3" r="11.8" fill="#000000"/>
<circle cx="538.4" cy="2006.0" r="11.8" fill="#000000"/>
<circle cx="538.4" cy="2046.5" r="11.8" fill="#000000"/>
<circle cx="538.4" cy="2182.0" r="11.8" fill="#000000"/>
<circle cx="538.4" cy="2242.2" r="11.8" fill="#000000"/>
<polygon points="628.3,2231.0 639.8,2251.2 616.8,2251.2" fill="none" stroke="#d9261c" stroke-width="3.6" stroke-linejoin="miter"/>
<polygon points="623.3,2282.3 634.8,2302.5 611.8,2302.5" fill="none" stroke="#d9261c" stroke-width="3.6" stroke-linejoin="miter"/>
<polygon points="616.3,2309.1 627.8,2329.4 604.8,2329.4" fill="none" stroke="#d9261c" stroke-width="3.6" stroke-linejoin="miter"/>
<polygon points="631.3,2309.1 642.8,2329.4 619.8,2329.4" fill="none" stroke="#d9261c" stroke-width="3.6" stroke-linejoin="miter"/>
<polygon points="644.3,2309.1 655.8,2329.4 632.8,2329.4" fill="none" stroke="#d9261c" stroke-width="3.6" stroke-linejoin="miter"/>
<rect x="706.2" y="1993.4" width="24.0" height="24.0" fill="none" stroke="#3ad93a" stroke-width="3.6"/>
<rect x="687.2" y="2084.1" width="24.0" height="24.0" fill="none" stroke="#3ad93a" stroke-width="3.6"/>
<rect x="724.2" y="2075.7" width="24.0" height="24.0" fill="none" stroke="#3ad93a" stroke-width="3.6"/>
<rect x="706.2" y="2110.3" width="24.0" height="24.0" fill="none" stroke="#3ad93a" stroke-width="3.6"/>
<rect x="706.2" y="2312.6" width="24.0" height="24.0" fill="none" stroke="#3ad93a" stroke-width="3.6"/>
<circle cx="808.1" cy="1946.9" r="11.8" fill="none" stroke="#2323d8" stroke-width="3.6"/>
<circle cx="825.1" cy="2110.4" r="11.8" fill="none" stroke="#2323d8" stroke-width="3.6"/>
<circle cx="789.1" cy="2127.7" r="11.8" fill="none" stroke="#2323d8" stroke-width="3.6"/>
<circle cx="808.1" cy="2205.8" r="11.8" fill="none" stroke="#2323d8" stroke-width="3.6"/>
<circle cx="808.1" cy="2326.3" r="11.8" fill="none" stroke="#2323d8" stroke-width="3.6"/>
<polygon points="898.0,2236.1 909.5,2247.6 898.0,2259.1 886.5,2247.6" fill="none" stroke="#1d5f1d" stroke-width="3.6"/>
<polygon points="898.0,2271.3 909.5,2282.8 898.0,2294.3 886.5,2282.8" fill="none" stroke="#1d5f1d" stroke-width="3.6"/>
<polygon points="879.5,2313.6 891.0,2325.2 879.5,2336.7 868.0,2325.2" fill="none" stroke="#1d5f1d" stroke-width="3.6"/>
<polygon points="898.0,2313.6 909.5,2325.2 898.0,2336.7 886.5,2325.2" fill="none" stroke="#1d5f1d" stroke-width="3.6"/>
<polygon points="916.7,2313.6 928.2,2325.2 916.7,2336.7 905.2,2325.2" fill="none" stroke="#1d5f1d" stroke-width="3.6"/>
<polygon points="999.4,2108.0 993.6,2117.9 982.1,2117.9 976.4,2108.0 982.1,2098.0 993.6,2098.0" fill="none" stroke="#16167e" stroke-width="3.6"/>
<polygon points="994.4,2301.3 988.6,2311.2 977.1,2311.2 971.4,2301.3 977.1,2291.3 988.6,2291.3" fill="none" stroke="#16167e" stroke-width="3.6"/>
<polygon points="978.4,2326.3 972.6,2336.3 961.1,2336.3 955.4,2326.3 961.1,2316.4 972.6,2316.4" fill="none" stroke="#16167e" stroke-width="3.6"/>
<polygon points="1012.4,2326.3 1006.6,2336.3 995.1,2336.3 989.4,2326.3 995.1,2316.4 1006.6,2316.4" fill="none" stroke="#16167e" stroke-width="3.6"/>
<polygon points="1019.4,2326.3 1013.6,2336.3 1002.1,2336.3 996.4,2326.3 1002.1,2316.4 1013.6,2316.4" fill="none" stroke="#16167e" stroke-width="3.6"/>
<polygon points="1059.0,1972.4 1070.6,1952.1 1047.5,1952.1" fill="none" stroke="#185a54" stroke-width="3.4"/>
<polygon points="1095.7,1972.4 1107.3,1952.1 1084.2,1952.1" fill="none" stroke="#185a54" stroke-width="3.4"/>
<polygon points="1058.4,2054.2 1070.0,2033.8 1046.9,2033.8" fill="none" stroke="#185a54" stroke-width="3.4"/>
<polygon points="1095.7,2058.6 1107.3,2038.3 1084.2,2038.3" fill="none" stroke="#185a54" stroke-width="3.4"/>
<polygon points="1077.8,2093.8 1089.4,2073.5 1066.3,2073.5" fill="none" stroke="#185a54" stroke-width="3.4"/>
<path d="M1137.7,2326.3L1153.7,2326.3M1138.8,2322.3L1152.6,2330.3M1141.7,2319.4L1149.7,2333.3M1145.7,2318.3L1145.7,2334.3M1149.7,2319.4L1141.7,2333.3M1152.6,2322.3L1138.8,2330.3" stroke="#e040e8" stroke-width="3" stroke-linecap="round"/>
<circle cx="1145.7" cy="2326.3" r="3.6" fill="#e040e8"/>
<path d="M1148.7,2326.3L1164.7,2326.3M1149.8,2322.3L1163.6,2330.3M1152.7,2319.4L1160.7,2333.3M1156.7,2318.3L1156.7,2334.3M1160.7,2319.4L1152.7,2333.3M1163.6,2322.3L1149.8,2330.3" stroke="#e040e8" stroke-width="3" stroke-linecap="round"/>
<circle cx="1156.7" cy="2326.3" r="3.6" fill="#e040e8"/>
<path d="M1159.7,2326.3L1175.7,2326.3M1160.8,2322.3L1174.6,2330.3M1163.7,2319.4L1171.7,2333.3M1167.7,2318.3L1167.7,2334.3M1171.7,2319.4L1163.7,2333.3M1174.6,2322.3L1160.8,2330.3" stroke="#e040e8" stroke-width="3" stroke-linecap="round"/>
<circle cx="1167.7" cy="2326.3" r="3.6" fill="#e040e8"/>
<path d="M1170.7,2326.3L1186.7,2326.3M1171.8,2322.3L1185.6,2330.3M1174.7,2319.4L1182.7,2333.3M1178.7,2318.3L1178.7,2334.3M1182.7,2319.4L1174.7,2333.3M1185.6,2322.3L1171.8,2330.3" stroke="#e040e8" stroke-width="3" stroke-linecap="round"/>
<circle cx="1178.7" cy="2326.3" r="3.6" fill="#e040e8"/>
<path d="M1181.7,2326.3L1197.7,2326.3M1182.8,2322.3L1196.6,2330.3M1185.7,2319.4L1193.7,2333.3M1189.7,2318.3L1189.7,2334.3M1193.7,2319.4L1185.7,2333.3M1196.6,2322.3L1182.8,2330.3" stroke="#e040e8" stroke-width="3" stroke-linecap="round"/>
<circle cx="1189.7" cy="2326.3" r="3.6" fill="#e040e8"/>
<rect x="1143.7" y="2321.3" width="48" height="10" fill="#e040e8"/>
<polyline points="538.4,1938.4 538.4,1916.6 628.5,1916.6 628.5,2226.8" fill="none" stroke="#000" stroke-width="3.8"/>
<polyline points="538.4,1900.6 538.4,1860.8 899.4,1860.8 899.4,2237.0" fill="none" stroke="#000" stroke-width="3.8"/>
<polyline points="538.4,1846.8 538.4,1807.6 1078.4,1807.6 1078.4,1946.9" fill="none" stroke="#000" stroke-width="3.8"/>
<polyline points="538.4,1792.4 538.4,1745.6 1167.9,1745.6 1167.9,2321.0" fill="none" stroke="#000" stroke-width="3.8"/>
<text x="583.5" y="1922.0" font-size="48" font-weight="bold" text-anchor="middle">*</text>
<text x="718.7" y="1868.0" font-size="48" font-weight="bold" text-anchor="middle">*</text>
<text x="853.8" y="1752.7" font-size="48" font-weight="bold" text-anchor="middle">*</text>
<text x="808.8" y="1794" font-size="24" font-weight="bold" text-anchor="middle">ns</text>
<circle cx="1261.8" cy="1857.0" r="11.6" fill="#000"/>
<text x="1292" y="1864.5" font-size="21" fill="#111" stroke="#111" stroke-width="0.45" textLength="41.4" lengthAdjust="spacingAndGlyphs">PBS</text>
<polygon points="1261.8,1891.3 1273.9,1912.6 1249.7,1912.6" fill="none" stroke="#d9261c" stroke-width="3.6" stroke-linejoin="miter"/>
<text x="1292" y="1910.5" font-size="21" fill="#111" stroke="#111" stroke-width="0.45" textLength="94.0" lengthAdjust="spacingAndGlyphs">HAd-S/C5</text>
<rect x="1250.3" y="1931.0" width="23.0" height="23.0" fill="none" stroke="#3ad93a" stroke-width="3.4"/>
<text x="1292" y="1950.0" font-size="21" fill="#111" stroke="#111" stroke-width="0.45" textLength="97.0" lengthAdjust="spacingAndGlyphs">HAd-M/C5</text>
<circle cx="1261.8" cy="1980.3" r="11.5" fill="none" stroke="#2323d8" stroke-width="3.4"/>
<text x="1292" y="1987.8" font-size="21" fill="#111" stroke="#111" stroke-width="0.45" textLength="95.5" lengthAdjust="spacingAndGlyphs">HAd-N/C5</text>
<polygon points="1261.8,2006.0 1273.8,2018.0 1261.8,2030.0 1249.8,2018.0" fill="none" stroke="#1d5f1d" stroke-width="3.4"/>
<text x="1292" y="2025.5" font-size="21" fill="#111" stroke="#111" stroke-width="0.45" textLength="198.7" lengthAdjust="spacingAndGlyphs">HAd-S/C5 HAd-M/C5</text>
<polygon points="1273.3,2054.4 1267.5,2064.4 1256.0,2064.4 1250.3,2054.4 1256.0,2044.4 1267.5,2044.4" fill="none" stroke="#16167e" stroke-width="3.4"/>
<text x="1292" y="2061.9" font-size="21" fill="#111" stroke="#111" stroke-width="0.45" textLength="214.7" lengthAdjust="spacingAndGlyphs">HAd-S/C5 + HAd-N/C5</text>
<polygon points="1261.8,2106.7 1273.9,2085.4 1249.7,2085.4" fill="none" stroke="#1f6e68" stroke-width="3.6"/>
<text x="1292" y="2102.5" font-size="21" fill="#111" stroke="#111" stroke-width="0.45" textLength="207.4" lengthAdjust="spacingAndGlyphs">HAd-M/C5+HAd-N/C5</text>
<path d="M1251.8,2135.8L1271.8,2135.8M1253.1,2130.8L1270.5,2140.8M1256.8,2127.1L1266.8,2144.5M1261.8,2125.8L1261.8,2145.8M1266.8,2127.1L1256.8,2144.5M1270.5,2130.8L1253.1,2140.8" stroke="#e040e8" stroke-width="3.2" stroke-linecap="round"/>
<circle cx="1261.8" cy="2135.8" r="4.5" fill="#e040e8"/>
<circle cx="1261.8" cy="2135.8" r="5" fill="#e040e8"/>
<text x="1292" y="2143.3" font-size="21" fill="#111" stroke="#111" stroke-width="0.45" textLength="337.7" lengthAdjust="spacingAndGlyphs">HAd-S/C5 + HAd-M/C5 + HAd-N/C5</text>
</svg>
</body></html>
